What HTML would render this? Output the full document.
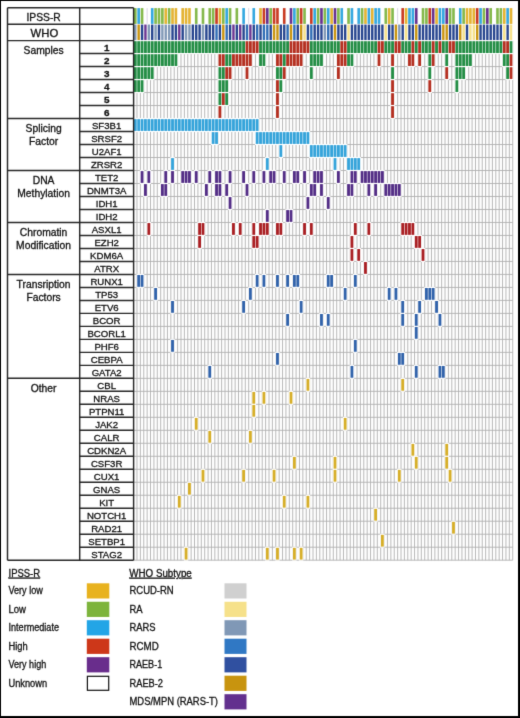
<!DOCTYPE html>
<html><head><meta charset="utf-8"><title>Mutation landscape</title>
<style>
html,body{margin:0;padding:0;background:#fff;}
body{width:520px;height:718px;overflow:hidden;position:relative;font-family:"Liberation Sans",sans-serif;}
#wrap{position:absolute;left:0;top:0;width:520px;height:718px;filter:url(#soft);}
#frame{position:absolute;left:0;top:0;width:520px;height:718px;box-sizing:border-box;border-style:solid;border-color:#000;border-width:1px 2px 2px 1.3px;}
</style></head><body>
<svg width="0" height="0" style="position:absolute"><defs><filter id="soft" x="0" y="0" width="100%" height="100%" color-interpolation-filters="sRGB"><feConvolveMatrix order="3" kernelMatrix="0.0113 0.0836 0.0113 0.0836 0.6204 0.0836 0.0113 0.0836 0.0113" edgeMode="duplicate"/></filter></defs></svg>
<div id="wrap"><div id="frame"></div>
<svg width="520" height="718" viewBox="0 0 520 718" style="position:absolute;left:0;top:0"><g fill="none" stroke="#B0B0B0" stroke-width="0.9"><line x1="133.6" y1="40.6" x2="133.6" y2="560.2"/><line x1="136.98" y1="40.6" x2="136.98" y2="560.2"/><line x1="140.37" y1="40.6" x2="140.37" y2="560.2"/><line x1="143.75" y1="40.6" x2="143.75" y2="560.2"/><line x1="147.14" y1="40.6" x2="147.14" y2="560.2"/><line x1="150.52" y1="40.6" x2="150.52" y2="560.2"/><line x1="153.91" y1="40.6" x2="153.91" y2="560.2"/><line x1="157.29" y1="40.6" x2="157.29" y2="560.2"/><line x1="160.68" y1="40.6" x2="160.68" y2="560.2"/><line x1="164.06" y1="40.6" x2="164.06" y2="560.2"/><line x1="167.45" y1="40.6" x2="167.45" y2="560.2"/><line x1="170.83" y1="40.6" x2="170.83" y2="560.2"/><line x1="174.22" y1="40.6" x2="174.22" y2="560.2"/><line x1="177.6" y1="40.6" x2="177.6" y2="560.2"/><line x1="180.99" y1="40.6" x2="180.99" y2="560.2"/><line x1="184.38" y1="40.6" x2="184.38" y2="560.2"/><line x1="187.76" y1="40.6" x2="187.76" y2="560.2"/><line x1="191.14" y1="40.6" x2="191.14" y2="560.2"/><line x1="194.53" y1="40.6" x2="194.53" y2="560.2"/><line x1="197.91" y1="40.6" x2="197.91" y2="560.2"/><line x1="201.3" y1="40.6" x2="201.3" y2="560.2"/><line x1="204.69" y1="40.6" x2="204.69" y2="560.2"/><line x1="208.07" y1="40.6" x2="208.07" y2="560.2"/><line x1="211.45" y1="40.6" x2="211.45" y2="560.2"/><line x1="214.84" y1="40.6" x2="214.84" y2="560.2"/><line x1="218.22" y1="40.6" x2="218.22" y2="560.2"/><line x1="221.61" y1="40.6" x2="221.61" y2="560.2"/><line x1="225" y1="40.6" x2="225" y2="560.2"/><line x1="228.38" y1="40.6" x2="228.38" y2="560.2"/><line x1="231.76" y1="40.6" x2="231.76" y2="560.2"/><line x1="235.15" y1="40.6" x2="235.15" y2="560.2"/><line x1="238.53" y1="40.6" x2="238.53" y2="560.2"/><line x1="241.92" y1="40.6" x2="241.92" y2="560.2"/><line x1="245.31" y1="40.6" x2="245.31" y2="560.2"/><line x1="248.69" y1="40.6" x2="248.69" y2="560.2"/><line x1="252.07" y1="40.6" x2="252.07" y2="560.2"/><line x1="255.46" y1="40.6" x2="255.46" y2="560.2"/><line x1="258.84" y1="40.6" x2="258.84" y2="560.2"/><line x1="262.23" y1="40.6" x2="262.23" y2="560.2"/><line x1="265.62" y1="40.6" x2="265.62" y2="560.2"/><line x1="269" y1="40.6" x2="269" y2="560.2"/><line x1="272.38" y1="40.6" x2="272.38" y2="560.2"/><line x1="275.77" y1="40.6" x2="275.77" y2="560.2"/><line x1="279.15" y1="40.6" x2="279.15" y2="560.2"/><line x1="282.54" y1="40.6" x2="282.54" y2="560.2"/><line x1="285.92" y1="40.6" x2="285.92" y2="560.2"/><line x1="289.31" y1="40.6" x2="289.31" y2="560.2"/><line x1="292.69" y1="40.6" x2="292.69" y2="560.2"/><line x1="296.08" y1="40.6" x2="296.08" y2="560.2"/><line x1="299.46" y1="40.6" x2="299.46" y2="560.2"/><line x1="302.85" y1="40.6" x2="302.85" y2="560.2"/><line x1="306.24" y1="40.6" x2="306.24" y2="560.2"/><line x1="309.62" y1="40.6" x2="309.62" y2="560.2"/><line x1="313" y1="40.6" x2="313" y2="560.2"/><line x1="316.39" y1="40.6" x2="316.39" y2="560.2"/><line x1="319.77" y1="40.6" x2="319.77" y2="560.2"/><line x1="323.16" y1="40.6" x2="323.16" y2="560.2"/><line x1="326.54" y1="40.6" x2="326.54" y2="560.2"/><line x1="329.93" y1="40.6" x2="329.93" y2="560.2"/><line x1="333.31" y1="40.6" x2="333.31" y2="560.2"/><line x1="336.7" y1="40.6" x2="336.7" y2="560.2"/><line x1="340.08" y1="40.6" x2="340.08" y2="560.2"/><line x1="343.47" y1="40.6" x2="343.47" y2="560.2"/><line x1="346.86" y1="40.6" x2="346.86" y2="560.2"/><line x1="350.24" y1="40.6" x2="350.24" y2="560.2"/><line x1="353.62" y1="40.6" x2="353.62" y2="560.2"/><line x1="357.01" y1="40.6" x2="357.01" y2="560.2"/><line x1="360.39" y1="40.6" x2="360.39" y2="560.2"/><line x1="363.78" y1="40.6" x2="363.78" y2="560.2"/><line x1="367.16" y1="40.6" x2="367.16" y2="560.2"/><line x1="370.55" y1="40.6" x2="370.55" y2="560.2"/><line x1="373.93" y1="40.6" x2="373.93" y2="560.2"/><line x1="377.32" y1="40.6" x2="377.32" y2="560.2"/><line x1="380.7" y1="40.6" x2="380.7" y2="560.2"/><line x1="384.09" y1="40.6" x2="384.09" y2="560.2"/><line x1="387.47" y1="40.6" x2="387.47" y2="560.2"/><line x1="390.86" y1="40.6" x2="390.86" y2="560.2"/><line x1="394.25" y1="40.6" x2="394.25" y2="560.2"/><line x1="397.63" y1="40.6" x2="397.63" y2="560.2"/><line x1="401.01" y1="40.6" x2="401.01" y2="560.2"/><line x1="404.4" y1="40.6" x2="404.4" y2="560.2"/><line x1="407.78" y1="40.6" x2="407.78" y2="560.2"/><line x1="411.17" y1="40.6" x2="411.17" y2="560.2"/><line x1="414.55" y1="40.6" x2="414.55" y2="560.2"/><line x1="417.94" y1="40.6" x2="417.94" y2="560.2"/><line x1="421.32" y1="40.6" x2="421.32" y2="560.2"/><line x1="424.71" y1="40.6" x2="424.71" y2="560.2"/><line x1="428.1" y1="40.6" x2="428.1" y2="560.2"/><line x1="431.48" y1="40.6" x2="431.48" y2="560.2"/><line x1="434.87" y1="40.6" x2="434.87" y2="560.2"/><line x1="438.25" y1="40.6" x2="438.25" y2="560.2"/><line x1="441.63" y1="40.6" x2="441.63" y2="560.2"/><line x1="445.02" y1="40.6" x2="445.02" y2="560.2"/><line x1="448.4" y1="40.6" x2="448.4" y2="560.2"/><line x1="451.79" y1="40.6" x2="451.79" y2="560.2"/><line x1="455.17" y1="40.6" x2="455.17" y2="560.2"/><line x1="458.56" y1="40.6" x2="458.56" y2="560.2"/><line x1="461.94" y1="40.6" x2="461.94" y2="560.2"/><line x1="465.33" y1="40.6" x2="465.33" y2="560.2"/><line x1="468.71" y1="40.6" x2="468.71" y2="560.2"/><line x1="472.1" y1="40.6" x2="472.1" y2="560.2"/><line x1="475.49" y1="40.6" x2="475.49" y2="560.2"/><line x1="478.87" y1="40.6" x2="478.87" y2="560.2"/><line x1="482.25" y1="40.6" x2="482.25" y2="560.2"/><line x1="485.64" y1="40.6" x2="485.64" y2="560.2"/><line x1="489.02" y1="40.6" x2="489.02" y2="560.2"/><line x1="492.41" y1="40.6" x2="492.41" y2="560.2"/><line x1="495.79" y1="40.6" x2="495.79" y2="560.2"/><line x1="499.18" y1="40.6" x2="499.18" y2="560.2"/><line x1="502.56" y1="40.6" x2="502.56" y2="560.2"/><line x1="505.95" y1="40.6" x2="505.95" y2="560.2"/><line x1="509.33" y1="40.6" x2="509.33" y2="560.2"/><line x1="512.72" y1="40.6" x2="512.72" y2="560.2"/><line x1="133.6" y1="40.6" x2="512.72" y2="40.6"/><line x1="133.6" y1="53.59" x2="512.72" y2="53.59"/><line x1="133.6" y1="66.58" x2="512.72" y2="66.58"/><line x1="133.6" y1="79.57" x2="512.72" y2="79.57"/><line x1="133.6" y1="92.56" x2="512.72" y2="92.56"/><line x1="133.6" y1="105.55" x2="512.72" y2="105.55"/><line x1="133.6" y1="118.54" x2="512.72" y2="118.54"/><line x1="133.6" y1="131.53" x2="512.72" y2="131.53"/><line x1="133.6" y1="144.52" x2="512.72" y2="144.52"/><line x1="133.6" y1="157.51" x2="512.72" y2="157.51"/><line x1="133.6" y1="170.5" x2="512.72" y2="170.5"/><line x1="133.6" y1="183.49" x2="512.72" y2="183.49"/><line x1="133.6" y1="196.48" x2="512.72" y2="196.48"/><line x1="133.6" y1="209.47" x2="512.72" y2="209.47"/><line x1="133.6" y1="222.46" x2="512.72" y2="222.46"/><line x1="133.6" y1="235.45" x2="512.72" y2="235.45"/><line x1="133.6" y1="248.44" x2="512.72" y2="248.44"/><line x1="133.6" y1="261.43" x2="512.72" y2="261.43"/><line x1="133.6" y1="274.42" x2="512.72" y2="274.42"/><line x1="133.6" y1="287.41" x2="512.72" y2="287.41"/><line x1="133.6" y1="300.4" x2="512.72" y2="300.4"/><line x1="133.6" y1="313.39" x2="512.72" y2="313.39"/><line x1="133.6" y1="326.38" x2="512.72" y2="326.38"/><line x1="133.6" y1="339.37" x2="512.72" y2="339.37"/><line x1="133.6" y1="352.36" x2="512.72" y2="352.36"/><line x1="133.6" y1="365.35" x2="512.72" y2="365.35"/><line x1="133.6" y1="378.34" x2="512.72" y2="378.34"/><line x1="133.6" y1="391.33" x2="512.72" y2="391.33"/><line x1="133.6" y1="404.32" x2="512.72" y2="404.32"/><line x1="133.6" y1="417.31" x2="512.72" y2="417.31"/><line x1="133.6" y1="430.3" x2="512.72" y2="430.3"/><line x1="133.6" y1="443.29" x2="512.72" y2="443.29"/><line x1="133.6" y1="456.28" x2="512.72" y2="456.28"/><line x1="133.6" y1="469.27" x2="512.72" y2="469.27"/><line x1="133.6" y1="482.26" x2="512.72" y2="482.26"/><line x1="133.6" y1="495.25" x2="512.72" y2="495.25"/><line x1="133.6" y1="508.24" x2="512.72" y2="508.24"/><line x1="133.6" y1="521.23" x2="512.72" y2="521.23"/><line x1="133.6" y1="534.22" x2="512.72" y2="534.22"/><line x1="133.6" y1="547.21" x2="512.72" y2="547.21"/><line x1="133.6" y1="560.2" x2="512.72" y2="560.2"/></g><g stroke="#CFC8DA" stroke-width="0.8"><line x1="147.14" y1="8.1" x2="147.14" y2="23.9"/><line x1="248.69" y1="8.1" x2="248.69" y2="23.9"/><line x1="397.63" y1="8.1" x2="397.63" y2="23.9"/></g><g><rect x="133.98" y="8.1" width="2.62" height="15.8" fill="#84B84A"/><rect x="134.1" y="24.55" width="2.38" height="15.7" fill="#8098B6"/><rect x="137.36" y="8.1" width="2.62" height="15.8" fill="#34A8E0"/><rect x="137.48" y="24.55" width="2.38" height="15.7" fill="#C8940F"/><rect x="140.75" y="8.1" width="2.62" height="15.8" fill="#84B84A"/><rect x="140.87" y="24.55" width="2.38" height="15.7" fill="#26448E"/><rect x="144.25" y="24.55" width="2.38" height="15.7" fill="#6A3490"/><rect x="147.64" y="24.55" width="2.38" height="15.7" fill="#8098B6"/><rect x="150.9" y="8.1" width="2.62" height="15.8" fill="#34A8E0"/><rect x="151.02" y="24.55" width="2.38" height="15.7" fill="#26448E"/><rect x="154.29" y="8.1" width="2.62" height="15.8" fill="#84B84A"/><rect x="154.41" y="24.55" width="2.38" height="15.7" fill="#8098B6"/><rect x="157.67" y="8.1" width="2.62" height="15.8" fill="#84B84A"/><rect x="157.79" y="24.55" width="2.38" height="15.7" fill="#26448E"/><rect x="161.06" y="8.1" width="2.62" height="15.8" fill="#84B84A"/><rect x="161.18" y="24.55" width="2.38" height="15.7" fill="#8098B6"/><rect x="164.44" y="8.1" width="2.62" height="15.8" fill="#E4B332"/><rect x="164.56" y="24.55" width="2.38" height="15.7" fill="#8098B6"/><rect x="167.83" y="8.1" width="2.62" height="15.8" fill="#84B84A"/><rect x="167.95" y="24.55" width="2.38" height="15.7" fill="#8098B6"/><rect x="171.21" y="8.1" width="2.62" height="15.8" fill="#E4B332"/><rect x="171.33" y="24.55" width="2.38" height="15.7" fill="#26448E"/><rect x="174.6" y="8.1" width="2.62" height="15.8" fill="#E4B332"/><rect x="174.72" y="24.55" width="2.38" height="15.7" fill="#26448E"/><rect x="178.1" y="24.55" width="2.38" height="15.7" fill="#6A3490"/><rect x="181.37" y="8.1" width="2.62" height="15.8" fill="#E4B332"/><rect x="181.49" y="24.55" width="2.38" height="15.7" fill="#26448E"/><rect x="184.75" y="8.1" width="2.62" height="15.8" fill="#E4B332"/><rect x="184.88" y="24.55" width="2.38" height="15.7" fill="#8098B6"/><rect x="188.14" y="8.1" width="2.62" height="15.8" fill="#E4B332"/><rect x="188.26" y="24.55" width="2.38" height="15.7" fill="#8098B6"/><rect x="191.64" y="24.55" width="2.38" height="15.7" fill="#26448E"/><rect x="194.91" y="8.1" width="2.62" height="15.8" fill="#84B84A"/><rect x="195.03" y="24.55" width="2.38" height="15.7" fill="#26448E"/><rect x="198.41" y="24.55" width="2.38" height="15.7" fill="#26448E"/><rect x="201.68" y="8.1" width="2.62" height="15.8" fill="#84B84A"/><rect x="201.8" y="24.55" width="2.38" height="15.7" fill="#8098B6"/><rect x="205.19" y="24.55" width="2.38" height="15.7" fill="#26448E"/><rect x="208.45" y="8.1" width="2.62" height="15.8" fill="#84B84A"/><rect x="208.57" y="24.55" width="2.38" height="15.7" fill="#26448E"/><rect x="211.83" y="8.1" width="2.62" height="15.8" fill="#84B84A"/><rect x="211.95" y="24.55" width="2.38" height="15.7" fill="#26448E"/><rect x="215.22" y="8.1" width="2.62" height="15.8" fill="#C93A22"/><rect x="215.34" y="24.55" width="2.38" height="15.7" fill="#2F6CB5"/><rect x="218.6" y="8.1" width="2.62" height="15.8" fill="#E4B332"/><rect x="218.72" y="24.55" width="2.38" height="15.7" fill="#26448E"/><rect x="221.99" y="8.1" width="2.62" height="15.8" fill="#84B84A"/><rect x="222.11" y="24.55" width="2.38" height="15.7" fill="#C8940F"/><rect x="225.38" y="8.1" width="2.62" height="15.8" fill="#34A8E0"/><rect x="225.5" y="24.55" width="2.38" height="15.7" fill="#2F6CB5"/><rect x="228.76" y="8.1" width="2.62" height="15.8" fill="#84B84A"/><rect x="228.88" y="24.55" width="2.38" height="15.7" fill="#26448E"/><rect x="232.26" y="24.55" width="2.38" height="15.7" fill="#6A3490"/><rect x="235.53" y="8.1" width="2.62" height="15.8" fill="#84B84A"/><rect x="235.65" y="24.55" width="2.38" height="15.7" fill="#26448E"/><rect x="239.03" y="24.55" width="2.38" height="15.7" fill="#6A3490"/><rect x="242.3" y="8.1" width="2.62" height="15.8" fill="#34A8E0"/><rect x="242.42" y="24.55" width="2.38" height="15.7" fill="#26448E"/><rect x="245.81" y="24.55" width="2.38" height="15.7" fill="#2F6CB5"/><rect x="249.19" y="24.55" width="2.38" height="15.7" fill="#6A3490"/><rect x="252.45" y="8.1" width="2.62" height="15.8" fill="#34A8E0"/><rect x="252.57" y="24.55" width="2.38" height="15.7" fill="#26448E"/><rect x="255.96" y="24.55" width="2.38" height="15.7" fill="#2F6CB5"/><rect x="259.22" y="8.1" width="2.62" height="15.8" fill="#E4B332"/><rect x="259.34" y="24.55" width="2.38" height="15.7" fill="#26448E"/><rect x="262.61" y="8.1" width="2.62" height="15.8" fill="#C93A22"/><rect x="262.73" y="24.55" width="2.38" height="15.7" fill="#2F6CB5"/><rect x="266" y="8.1" width="2.62" height="15.8" fill="#66308E"/><rect x="266.12" y="24.55" width="2.38" height="15.7" fill="#2F6CB5"/><rect x="269.38" y="8.1" width="2.62" height="15.8" fill="#84B84A"/><rect x="269.5" y="24.55" width="2.38" height="15.7" fill="#26448E"/><rect x="272.76" y="8.1" width="2.62" height="15.8" fill="#C93A22"/><rect x="272.88" y="24.55" width="2.38" height="15.7" fill="#C8940F"/><rect x="276.15" y="8.1" width="2.62" height="15.8" fill="#C93A22"/><rect x="276.27" y="24.55" width="2.38" height="15.7" fill="#C8940F"/><rect x="279.65" y="24.55" width="2.38" height="15.7" fill="#26448E"/><rect x="282.92" y="8.1" width="2.62" height="15.8" fill="#C93A22"/><rect x="283.04" y="24.55" width="2.38" height="15.7" fill="#26448E"/><rect x="286.42" y="24.55" width="2.38" height="15.7" fill="#2F6CB5"/><rect x="289.69" y="8.1" width="2.62" height="15.8" fill="#66308E"/><rect x="289.81" y="24.55" width="2.38" height="15.7" fill="#C8940F"/><rect x="293.07" y="8.1" width="2.62" height="15.8" fill="#34A8E0"/><rect x="293.19" y="24.55" width="2.38" height="15.7" fill="#2F6CB5"/><rect x="296.46" y="8.1" width="2.62" height="15.8" fill="#84B84A"/><rect x="296.58" y="24.55" width="2.38" height="15.7" fill="#26448E"/><rect x="299.84" y="8.1" width="2.62" height="15.8" fill="#C93A22"/><rect x="299.96" y="24.55" width="2.38" height="15.7" fill="#C8940F"/><rect x="303.23" y="8.1" width="2.62" height="15.8" fill="#84B84A"/><rect x="303.35" y="24.55" width="2.38" height="15.7" fill="#F6E18A"/><rect x="306.74" y="24.55" width="2.38" height="15.7" fill="#26448E"/><rect x="310" y="8.1" width="2.62" height="15.8" fill="#C93A22"/><rect x="310.12" y="24.55" width="2.38" height="15.7" fill="#2F6CB5"/><rect x="313.38" y="8.1" width="2.62" height="15.8" fill="#34A8E0"/><rect x="313.5" y="24.55" width="2.38" height="15.7" fill="#26448E"/><rect x="316.77" y="8.1" width="2.62" height="15.8" fill="#84B84A"/><rect x="316.89" y="24.55" width="2.38" height="15.7" fill="#26448E"/><rect x="320.15" y="8.1" width="2.62" height="15.8" fill="#66308E"/><rect x="320.27" y="24.55" width="2.38" height="15.7" fill="#26448E"/><rect x="323.54" y="8.1" width="2.62" height="15.8" fill="#84B84A"/><rect x="323.66" y="24.55" width="2.38" height="15.7" fill="#8098B6"/><rect x="326.92" y="8.1" width="2.62" height="15.8" fill="#34A8E0"/><rect x="327.04" y="24.55" width="2.38" height="15.7" fill="#2F6CB5"/><rect x="330.31" y="8.1" width="2.62" height="15.8" fill="#E4B332"/><rect x="330.43" y="24.55" width="2.38" height="15.7" fill="#26448E"/><rect x="333.69" y="8.1" width="2.62" height="15.8" fill="#66308E"/><rect x="333.81" y="24.55" width="2.38" height="15.7" fill="#C8940F"/><rect x="337.08" y="8.1" width="2.62" height="15.8" fill="#84B84A"/><rect x="337.2" y="24.55" width="2.38" height="15.7" fill="#26448E"/><rect x="340.46" y="8.1" width="2.62" height="15.8" fill="#34A8E0"/><rect x="340.58" y="24.55" width="2.38" height="15.7" fill="#26448E"/><rect x="343.97" y="24.55" width="2.38" height="15.7" fill="#26448E"/><rect x="347.24" y="8.1" width="2.62" height="15.8" fill="#84B84A"/><rect x="347.36" y="24.55" width="2.38" height="15.7" fill="#F6E18A"/><rect x="350.62" y="8.1" width="2.62" height="15.8" fill="#34A8E0"/><rect x="350.74" y="24.55" width="2.38" height="15.7" fill="#26448E"/><rect x="354.12" y="24.55" width="2.38" height="15.7" fill="#26448E"/><rect x="357.39" y="8.1" width="2.62" height="15.8" fill="#34A8E0"/><rect x="357.51" y="24.55" width="2.38" height="15.7" fill="#26448E"/><rect x="360.77" y="8.1" width="2.62" height="15.8" fill="#84B84A"/><rect x="360.89" y="24.55" width="2.38" height="15.7" fill="#26448E"/><rect x="364.16" y="8.1" width="2.62" height="15.8" fill="#E4B332"/><rect x="364.28" y="24.55" width="2.38" height="15.7" fill="#26448E"/><rect x="367.54" y="8.1" width="2.62" height="15.8" fill="#34A8E0"/><rect x="367.66" y="24.55" width="2.38" height="15.7" fill="#26448E"/><rect x="370.93" y="8.1" width="2.62" height="15.8" fill="#E4B332"/><rect x="371.05" y="24.55" width="2.38" height="15.7" fill="#26448E"/><rect x="374.31" y="8.1" width="2.62" height="15.8" fill="#34A8E0"/><rect x="374.43" y="24.55" width="2.38" height="15.7" fill="#26448E"/><rect x="377.7" y="8.1" width="2.62" height="15.8" fill="#34A8E0"/><rect x="377.82" y="24.55" width="2.38" height="15.7" fill="#26448E"/><rect x="381.2" y="24.55" width="2.38" height="15.7" fill="#26448E"/><rect x="384.47" y="8.1" width="2.62" height="15.8" fill="#84B84A"/><rect x="384.59" y="24.55" width="2.38" height="15.7" fill="#F6E18A"/><rect x="387.85" y="8.1" width="2.62" height="15.8" fill="#E4B332"/><rect x="387.97" y="24.55" width="2.38" height="15.7" fill="#26448E"/><rect x="391.24" y="8.1" width="2.62" height="15.8" fill="#84B84A"/><rect x="391.36" y="24.55" width="2.38" height="15.7" fill="#26448E"/><rect x="394.75" y="24.55" width="2.38" height="15.7" fill="#C8940F"/><rect x="398.13" y="24.55" width="2.38" height="15.7" fill="#8098B6"/><rect x="401.39" y="8.1" width="2.62" height="15.8" fill="#C93A22"/><rect x="401.51" y="24.55" width="2.38" height="15.7" fill="#26448E"/><rect x="404.78" y="8.1" width="2.62" height="15.8" fill="#E4B332"/><rect x="404.9" y="24.55" width="2.38" height="15.7" fill="#F6E18A"/><rect x="408.16" y="8.1" width="2.62" height="15.8" fill="#34A8E0"/><rect x="408.28" y="24.55" width="2.38" height="15.7" fill="#26448E"/><rect x="411.55" y="8.1" width="2.62" height="15.8" fill="#34A8E0"/><rect x="411.67" y="24.55" width="2.38" height="15.7" fill="#26448E"/><rect x="414.93" y="8.1" width="2.62" height="15.8" fill="#66308E"/><rect x="415.05" y="24.55" width="2.38" height="15.7" fill="#C8940F"/><rect x="418.44" y="24.55" width="2.38" height="15.7" fill="#26448E"/><rect x="421.7" y="8.1" width="2.62" height="15.8" fill="#84B84A"/><rect x="421.82" y="24.55" width="2.38" height="15.7" fill="#26448E"/><rect x="425.09" y="8.1" width="2.62" height="15.8" fill="#84B84A"/><rect x="425.21" y="24.55" width="2.38" height="15.7" fill="#26448E"/><rect x="428.48" y="8.1" width="2.62" height="15.8" fill="#C93A22"/><rect x="428.6" y="24.55" width="2.38" height="15.7" fill="#26448E"/><rect x="431.86" y="8.1" width="2.62" height="15.8" fill="#66308E"/><rect x="431.98" y="24.55" width="2.38" height="15.7" fill="#26448E"/><rect x="435.25" y="8.1" width="2.62" height="15.8" fill="#E4B332"/><rect x="435.37" y="24.55" width="2.38" height="15.7" fill="#26448E"/><rect x="438.63" y="8.1" width="2.62" height="15.8" fill="#34A8E0"/><rect x="438.75" y="24.55" width="2.38" height="15.7" fill="#26448E"/><rect x="442.01" y="8.1" width="2.62" height="15.8" fill="#34A8E0"/><rect x="442.13" y="24.55" width="2.38" height="15.7" fill="#C8940F"/><rect x="445.4" y="8.1" width="2.62" height="15.8" fill="#66308E"/><rect x="445.52" y="24.55" width="2.38" height="15.7" fill="#C8940F"/><rect x="448.78" y="8.1" width="2.62" height="15.8" fill="#84B84A"/><rect x="448.9" y="24.55" width="2.38" height="15.7" fill="#26448E"/><rect x="452.17" y="8.1" width="2.62" height="15.8" fill="#84B84A"/><rect x="452.29" y="24.55" width="2.38" height="15.7" fill="#26448E"/><rect x="455.67" y="24.55" width="2.38" height="15.7" fill="#26448E"/><rect x="458.94" y="8.1" width="2.62" height="15.8" fill="#34A8E0"/><rect x="459.06" y="24.55" width="2.38" height="15.7" fill="#C8940F"/><rect x="462.32" y="8.1" width="2.62" height="15.8" fill="#84B84A"/><rect x="462.44" y="24.55" width="2.38" height="15.7" fill="#F6E18A"/><rect x="465.71" y="8.1" width="2.62" height="15.8" fill="#E4B332"/><rect x="465.83" y="24.55" width="2.38" height="15.7" fill="#26448E"/><rect x="469.09" y="8.1" width="2.62" height="15.8" fill="#E4B332"/><rect x="469.21" y="24.55" width="2.38" height="15.7" fill="#F6E18A"/><rect x="472.48" y="8.1" width="2.62" height="15.8" fill="#E4B332"/><rect x="472.6" y="24.55" width="2.38" height="15.7" fill="#F6E18A"/><rect x="475.87" y="8.1" width="2.62" height="15.8" fill="#C93A22"/><rect x="475.99" y="24.55" width="2.38" height="15.7" fill="#C8940F"/><rect x="479.25" y="8.1" width="2.62" height="15.8" fill="#34A8E0"/><rect x="479.37" y="24.55" width="2.38" height="15.7" fill="#26448E"/><rect x="482.63" y="8.1" width="2.62" height="15.8" fill="#84B84A"/><rect x="482.75" y="24.55" width="2.38" height="15.7" fill="#26448E"/><rect x="486.02" y="8.1" width="2.62" height="15.8" fill="#66308E"/><rect x="486.14" y="24.55" width="2.38" height="15.7" fill="#26448E"/><rect x="489.4" y="8.1" width="2.62" height="15.8" fill="#84B84A"/><rect x="489.52" y="24.55" width="2.38" height="15.7" fill="#26448E"/><rect x="492.91" y="24.55" width="2.38" height="15.7" fill="#26448E"/><rect x="496.17" y="8.1" width="2.62" height="15.8" fill="#84B84A"/><rect x="496.29" y="24.55" width="2.38" height="15.7" fill="#26448E"/><rect x="499.56" y="8.1" width="2.62" height="15.8" fill="#84B84A"/><rect x="499.68" y="24.55" width="2.38" height="15.7" fill="#26448E"/><rect x="502.94" y="8.1" width="2.62" height="15.8" fill="#E4B332"/><rect x="503.06" y="24.55" width="2.38" height="15.7" fill="#F6E18A"/><rect x="506.33" y="8.1" width="2.62" height="15.8" fill="#34A8E0"/><rect x="506.45" y="24.55" width="2.38" height="15.7" fill="#26448E"/><rect x="509.71" y="8.1" width="2.62" height="15.8" fill="#E4B332"/><rect x="509.83" y="24.55" width="2.38" height="15.7" fill="#F6E18A"/></g><g fill="#fff"><rect x="133.1" y="40.1" width="4.38" height="13.99"/><rect x="136.48" y="40.1" width="4.38" height="13.99"/><rect x="139.87" y="40.1" width="4.38" height="13.99"/><rect x="143.25" y="40.1" width="4.38" height="13.99"/><rect x="146.64" y="40.1" width="4.38" height="13.99"/><rect x="150.02" y="40.1" width="4.38" height="13.99"/><rect x="153.41" y="40.1" width="4.38" height="13.99"/><rect x="156.79" y="40.1" width="4.38" height="13.99"/><rect x="160.18" y="40.1" width="4.38" height="13.99"/><rect x="163.56" y="40.1" width="4.38" height="13.99"/><rect x="166.95" y="40.1" width="4.38" height="13.99"/><rect x="170.33" y="40.1" width="4.38" height="13.99"/><rect x="173.72" y="40.1" width="4.38" height="13.99"/><rect x="177.1" y="40.1" width="4.38" height="13.99"/><rect x="180.49" y="40.1" width="4.38" height="13.99"/><rect x="183.88" y="40.1" width="4.38" height="13.99"/><rect x="187.26" y="40.1" width="4.38" height="13.99"/><rect x="190.64" y="40.1" width="4.38" height="13.99"/><rect x="194.03" y="40.1" width="4.38" height="13.99"/><rect x="197.41" y="40.1" width="4.38" height="13.99"/><rect x="200.8" y="40.1" width="4.38" height="13.99"/><rect x="204.19" y="40.1" width="4.38" height="13.99"/><rect x="207.57" y="40.1" width="4.38" height="13.99"/><rect x="210.95" y="40.1" width="4.38" height="13.99"/><rect x="214.34" y="40.1" width="4.38" height="13.99"/><rect x="217.72" y="40.1" width="4.38" height="13.99"/><rect x="221.11" y="40.1" width="4.38" height="13.99"/><rect x="224.5" y="40.1" width="4.38" height="13.99"/><rect x="227.88" y="40.1" width="4.38" height="13.99"/><rect x="231.26" y="40.1" width="4.38" height="13.99"/><rect x="234.65" y="40.1" width="4.38" height="13.99"/><rect x="238.03" y="40.1" width="4.38" height="13.99"/><rect x="241.42" y="40.1" width="4.38" height="13.99"/><rect x="244.81" y="40.1" width="4.38" height="13.99"/><rect x="248.19" y="40.1" width="4.38" height="13.99"/><rect x="251.57" y="40.1" width="4.38" height="13.99"/><rect x="254.96" y="40.1" width="4.38" height="13.99"/><rect x="258.34" y="40.1" width="4.38" height="13.99"/><rect x="261.73" y="40.1" width="4.38" height="13.99"/><rect x="265.12" y="40.1" width="4.38" height="13.99"/><rect x="268.5" y="40.1" width="4.38" height="13.99"/><rect x="271.88" y="40.1" width="4.38" height="13.99"/><rect x="275.27" y="40.1" width="4.38" height="13.99"/><rect x="278.65" y="40.1" width="4.38" height="13.99"/><rect x="282.04" y="40.1" width="4.38" height="13.99"/><rect x="285.42" y="40.1" width="4.38" height="13.99"/><rect x="288.81" y="40.1" width="4.38" height="13.99"/><rect x="292.19" y="40.1" width="4.38" height="13.99"/><rect x="295.58" y="40.1" width="4.38" height="13.99"/><rect x="298.96" y="40.1" width="4.38" height="13.99"/><rect x="302.35" y="40.1" width="4.38" height="13.99"/><rect x="305.74" y="40.1" width="4.38" height="13.99"/><rect x="309.12" y="40.1" width="4.38" height="13.99"/><rect x="312.5" y="40.1" width="4.38" height="13.99"/><rect x="315.89" y="40.1" width="4.38" height="13.99"/><rect x="319.27" y="40.1" width="4.38" height="13.99"/><rect x="322.66" y="40.1" width="4.38" height="13.99"/><rect x="326.04" y="40.1" width="4.38" height="13.99"/><rect x="329.43" y="40.1" width="4.38" height="13.99"/><rect x="332.81" y="40.1" width="4.38" height="13.99"/><rect x="336.2" y="40.1" width="4.38" height="13.99"/><rect x="339.58" y="40.1" width="4.38" height="13.99"/><rect x="342.97" y="40.1" width="4.38" height="13.99"/><rect x="346.36" y="40.1" width="4.38" height="13.99"/><rect x="349.74" y="40.1" width="4.38" height="13.99"/><rect x="353.12" y="40.1" width="4.38" height="13.99"/><rect x="356.51" y="40.1" width="4.38" height="13.99"/><rect x="359.89" y="40.1" width="4.38" height="13.99"/><rect x="363.28" y="40.1" width="4.38" height="13.99"/><rect x="366.66" y="40.1" width="4.38" height="13.99"/><rect x="370.05" y="40.1" width="4.38" height="13.99"/><rect x="373.43" y="40.1" width="4.38" height="13.99"/><rect x="376.82" y="40.1" width="4.38" height="13.99"/><rect x="380.2" y="40.1" width="4.38" height="13.99"/><rect x="383.59" y="40.1" width="4.38" height="13.99"/><rect x="386.97" y="40.1" width="4.38" height="13.99"/><rect x="390.36" y="40.1" width="4.38" height="13.99"/><rect x="393.75" y="40.1" width="4.38" height="13.99"/><rect x="397.13" y="40.1" width="4.38" height="13.99"/><rect x="400.51" y="40.1" width="4.38" height="13.99"/><rect x="403.9" y="40.1" width="4.38" height="13.99"/><rect x="407.28" y="40.1" width="4.38" height="13.99"/><rect x="410.67" y="40.1" width="4.38" height="13.99"/><rect x="414.05" y="40.1" width="4.38" height="13.99"/><rect x="417.44" y="40.1" width="4.38" height="13.99"/><rect x="420.82" y="40.1" width="4.38" height="13.99"/><rect x="424.21" y="40.1" width="4.38" height="13.99"/><rect x="427.6" y="40.1" width="4.38" height="13.99"/><rect x="430.98" y="40.1" width="4.38" height="13.99"/><rect x="434.37" y="40.1" width="4.38" height="13.99"/><rect x="437.75" y="40.1" width="4.38" height="13.99"/><rect x="441.13" y="40.1" width="4.38" height="13.99"/><rect x="444.52" y="40.1" width="4.38" height="13.99"/><rect x="447.9" y="40.1" width="4.38" height="13.99"/><rect x="451.29" y="40.1" width="4.38" height="13.99"/><rect x="454.67" y="40.1" width="4.38" height="13.99"/><rect x="458.06" y="40.1" width="4.38" height="13.99"/><rect x="461.44" y="40.1" width="4.38" height="13.99"/><rect x="464.83" y="40.1" width="4.38" height="13.99"/><rect x="468.21" y="40.1" width="4.38" height="13.99"/><rect x="471.6" y="40.1" width="4.38" height="13.99"/><rect x="474.99" y="40.1" width="4.38" height="13.99"/><rect x="478.37" y="40.1" width="4.38" height="13.99"/><rect x="481.75" y="40.1" width="4.38" height="13.99"/><rect x="485.14" y="40.1" width="4.38" height="13.99"/><rect x="488.52" y="40.1" width="4.38" height="13.99"/><rect x="491.91" y="40.1" width="4.38" height="13.99"/><rect x="495.29" y="40.1" width="4.38" height="13.99"/><rect x="498.68" y="40.1" width="4.38" height="13.99"/><rect x="502.06" y="40.1" width="4.38" height="13.99"/><rect x="505.45" y="40.1" width="4.38" height="13.99"/><rect x="508.83" y="40.1" width="4.38" height="13.99"/><rect x="133.1" y="53.09" width="4.38" height="13.99"/><rect x="136.48" y="53.09" width="4.38" height="13.99"/><rect x="139.87" y="53.09" width="4.38" height="13.99"/><rect x="143.25" y="53.09" width="4.38" height="13.99"/><rect x="146.64" y="53.09" width="4.38" height="13.99"/><rect x="150.02" y="53.09" width="4.38" height="13.99"/><rect x="153.41" y="53.09" width="4.38" height="13.99"/><rect x="156.79" y="53.09" width="4.38" height="13.99"/><rect x="160.18" y="53.09" width="4.38" height="13.99"/><rect x="163.56" y="53.09" width="4.38" height="13.99"/><rect x="166.95" y="53.09" width="4.38" height="13.99"/><rect x="170.33" y="53.09" width="4.38" height="13.99"/><rect x="173.72" y="53.09" width="4.38" height="13.99"/><rect x="217.72" y="53.09" width="4.38" height="13.99"/><rect x="221.11" y="53.09" width="4.38" height="13.99"/><rect x="224.5" y="53.09" width="4.38" height="13.99"/><rect x="227.88" y="53.09" width="4.38" height="13.99"/><rect x="231.26" y="53.09" width="4.38" height="13.99"/><rect x="234.65" y="53.09" width="4.38" height="13.99"/><rect x="238.03" y="53.09" width="4.38" height="13.99"/><rect x="241.42" y="53.09" width="4.38" height="13.99"/><rect x="244.81" y="53.09" width="4.38" height="13.99"/><rect x="248.19" y="53.09" width="4.38" height="13.99"/><rect x="258.34" y="53.09" width="4.38" height="13.99"/><rect x="261.73" y="53.09" width="4.38" height="13.99"/><rect x="275.27" y="53.09" width="4.38" height="13.99"/><rect x="278.65" y="53.09" width="4.38" height="13.99"/><rect x="282.04" y="53.09" width="4.38" height="13.99"/><rect x="285.42" y="53.09" width="4.38" height="13.99"/><rect x="288.81" y="53.09" width="4.38" height="13.99"/><rect x="292.19" y="53.09" width="4.38" height="13.99"/><rect x="295.58" y="53.09" width="4.38" height="13.99"/><rect x="298.96" y="53.09" width="4.38" height="13.99"/><rect x="309.12" y="53.09" width="4.38" height="13.99"/><rect x="312.5" y="53.09" width="4.38" height="13.99"/><rect x="315.89" y="53.09" width="4.38" height="13.99"/><rect x="319.27" y="53.09" width="4.38" height="13.99"/><rect x="336.2" y="53.09" width="4.38" height="13.99"/><rect x="339.58" y="53.09" width="4.38" height="13.99"/><rect x="342.97" y="53.09" width="4.38" height="13.99"/><rect x="346.36" y="53.09" width="4.38" height="13.99"/><rect x="349.74" y="53.09" width="4.38" height="13.99"/><rect x="376.82" y="53.09" width="4.38" height="13.99"/><rect x="390.36" y="53.09" width="4.38" height="13.99"/><rect x="407.28" y="53.09" width="4.38" height="13.99"/><rect x="410.67" y="53.09" width="4.38" height="13.99"/><rect x="417.44" y="53.09" width="4.38" height="13.99"/><rect x="427.6" y="53.09" width="4.38" height="13.99"/><rect x="430.98" y="53.09" width="4.38" height="13.99"/><rect x="444.52" y="53.09" width="4.38" height="13.99"/><rect x="454.67" y="53.09" width="4.38" height="13.99"/><rect x="458.06" y="53.09" width="4.38" height="13.99"/><rect x="461.44" y="53.09" width="4.38" height="13.99"/><rect x="464.83" y="53.09" width="4.38" height="13.99"/><rect x="468.21" y="53.09" width="4.38" height="13.99"/><rect x="502.06" y="53.09" width="4.38" height="13.99"/><rect x="505.45" y="53.09" width="4.38" height="13.99"/><rect x="508.83" y="53.09" width="4.38" height="13.99"/><rect x="133.1" y="66.08" width="4.38" height="13.99"/><rect x="136.48" y="66.08" width="4.38" height="13.99"/><rect x="139.87" y="66.08" width="4.38" height="13.99"/><rect x="143.25" y="66.08" width="4.38" height="13.99"/><rect x="146.64" y="66.08" width="4.38" height="13.99"/><rect x="150.02" y="66.08" width="4.38" height="13.99"/><rect x="217.72" y="66.08" width="4.38" height="13.99"/><rect x="221.11" y="66.08" width="4.38" height="13.99"/><rect x="224.5" y="66.08" width="4.38" height="13.99"/><rect x="227.88" y="66.08" width="4.38" height="13.99"/><rect x="244.81" y="66.08" width="4.38" height="13.99"/><rect x="275.27" y="66.08" width="4.38" height="13.99"/><rect x="278.65" y="66.08" width="4.38" height="13.99"/><rect x="282.04" y="66.08" width="4.38" height="13.99"/><rect x="309.12" y="66.08" width="4.38" height="13.99"/><rect x="336.2" y="66.08" width="4.38" height="13.99"/><rect x="390.36" y="66.08" width="4.38" height="13.99"/><rect x="427.6" y="66.08" width="4.38" height="13.99"/><rect x="444.52" y="66.08" width="4.38" height="13.99"/><rect x="454.67" y="66.08" width="4.38" height="13.99"/><rect x="458.06" y="66.08" width="4.38" height="13.99"/><rect x="461.44" y="66.08" width="4.38" height="13.99"/><rect x="505.45" y="66.08" width="4.38" height="13.99"/><rect x="508.83" y="66.08" width="4.38" height="13.99"/><rect x="133.1" y="79.07" width="4.38" height="13.99"/><rect x="136.48" y="79.07" width="4.38" height="13.99"/><rect x="139.87" y="79.07" width="4.38" height="13.99"/><rect x="217.72" y="79.07" width="4.38" height="13.99"/><rect x="221.11" y="79.07" width="4.38" height="13.99"/><rect x="224.5" y="79.07" width="4.38" height="13.99"/><rect x="275.27" y="79.07" width="4.38" height="13.99"/><rect x="278.65" y="79.07" width="4.38" height="13.99"/><rect x="390.36" y="79.07" width="4.38" height="13.99"/><rect x="427.6" y="79.07" width="4.38" height="13.99"/><rect x="454.67" y="79.07" width="4.38" height="13.99"/><rect x="217.72" y="92.06" width="4.38" height="13.99"/><rect x="221.11" y="92.06" width="4.38" height="13.99"/><rect x="224.5" y="92.06" width="4.38" height="13.99"/><rect x="275.27" y="92.06" width="4.38" height="13.99"/><rect x="390.36" y="92.06" width="4.38" height="13.99"/><rect x="217.72" y="105.05" width="4.38" height="13.99"/><rect x="275.27" y="105.05" width="4.38" height="13.99"/><rect x="390.36" y="105.05" width="4.38" height="13.99"/><rect x="133.1" y="118.04" width="4.38" height="13.99"/><rect x="136.48" y="118.04" width="4.38" height="13.99"/><rect x="139.87" y="118.04" width="4.38" height="13.99"/><rect x="143.25" y="118.04" width="4.38" height="13.99"/><rect x="146.64" y="118.04" width="4.38" height="13.99"/><rect x="150.02" y="118.04" width="4.38" height="13.99"/><rect x="153.41" y="118.04" width="4.38" height="13.99"/><rect x="156.79" y="118.04" width="4.38" height="13.99"/><rect x="160.18" y="118.04" width="4.38" height="13.99"/><rect x="163.56" y="118.04" width="4.38" height="13.99"/><rect x="166.95" y="118.04" width="4.38" height="13.99"/><rect x="170.33" y="118.04" width="4.38" height="13.99"/><rect x="173.72" y="118.04" width="4.38" height="13.99"/><rect x="177.1" y="118.04" width="4.38" height="13.99"/><rect x="180.49" y="118.04" width="4.38" height="13.99"/><rect x="183.88" y="118.04" width="4.38" height="13.99"/><rect x="187.26" y="118.04" width="4.38" height="13.99"/><rect x="190.64" y="118.04" width="4.38" height="13.99"/><rect x="194.03" y="118.04" width="4.38" height="13.99"/><rect x="197.41" y="118.04" width="4.38" height="13.99"/><rect x="200.8" y="118.04" width="4.38" height="13.99"/><rect x="204.19" y="118.04" width="4.38" height="13.99"/><rect x="207.57" y="118.04" width="4.38" height="13.99"/><rect x="210.95" y="118.04" width="4.38" height="13.99"/><rect x="214.34" y="118.04" width="4.38" height="13.99"/><rect x="217.72" y="118.04" width="4.38" height="13.99"/><rect x="221.11" y="118.04" width="4.38" height="13.99"/><rect x="224.5" y="118.04" width="4.38" height="13.99"/><rect x="227.88" y="118.04" width="4.38" height="13.99"/><rect x="231.26" y="118.04" width="4.38" height="13.99"/><rect x="234.65" y="118.04" width="4.38" height="13.99"/><rect x="238.03" y="118.04" width="4.38" height="13.99"/><rect x="241.42" y="118.04" width="4.38" height="13.99"/><rect x="244.81" y="118.04" width="4.38" height="13.99"/><rect x="248.19" y="118.04" width="4.38" height="13.99"/><rect x="251.57" y="118.04" width="4.38" height="13.99"/><rect x="254.96" y="118.04" width="4.38" height="13.99"/><rect x="210.95" y="131.03" width="4.38" height="13.99"/><rect x="214.34" y="131.03" width="4.38" height="13.99"/><rect x="254.96" y="131.03" width="4.38" height="13.99"/><rect x="258.34" y="131.03" width="4.38" height="13.99"/><rect x="261.73" y="131.03" width="4.38" height="13.99"/><rect x="265.12" y="131.03" width="4.38" height="13.99"/><rect x="268.5" y="131.03" width="4.38" height="13.99"/><rect x="271.88" y="131.03" width="4.38" height="13.99"/><rect x="275.27" y="131.03" width="4.38" height="13.99"/><rect x="278.65" y="131.03" width="4.38" height="13.99"/><rect x="282.04" y="131.03" width="4.38" height="13.99"/><rect x="285.42" y="131.03" width="4.38" height="13.99"/><rect x="288.81" y="131.03" width="4.38" height="13.99"/><rect x="292.19" y="131.03" width="4.38" height="13.99"/><rect x="295.58" y="131.03" width="4.38" height="13.99"/><rect x="298.96" y="131.03" width="4.38" height="13.99"/><rect x="302.35" y="131.03" width="4.38" height="13.99"/><rect x="305.74" y="131.03" width="4.38" height="13.99"/><rect x="278.65" y="144.02" width="4.38" height="13.99"/><rect x="309.12" y="144.02" width="4.38" height="13.99"/><rect x="312.5" y="144.02" width="4.38" height="13.99"/><rect x="315.89" y="144.02" width="4.38" height="13.99"/><rect x="319.27" y="144.02" width="4.38" height="13.99"/><rect x="322.66" y="144.02" width="4.38" height="13.99"/><rect x="326.04" y="144.02" width="4.38" height="13.99"/><rect x="329.43" y="144.02" width="4.38" height="13.99"/><rect x="332.81" y="144.02" width="4.38" height="13.99"/><rect x="336.2" y="144.02" width="4.38" height="13.99"/><rect x="339.58" y="144.02" width="4.38" height="13.99"/><rect x="342.97" y="144.02" width="4.38" height="13.99"/><rect x="170.33" y="157.01" width="4.38" height="13.99"/><rect x="265.12" y="157.01" width="4.38" height="13.99"/><rect x="332.81" y="157.01" width="4.38" height="13.99"/><rect x="346.36" y="157.01" width="4.38" height="13.99"/><rect x="349.74" y="157.01" width="4.38" height="13.99"/><rect x="353.12" y="157.01" width="4.38" height="13.99"/><rect x="356.51" y="157.01" width="4.38" height="13.99"/><rect x="139.87" y="170" width="4.38" height="13.99"/><rect x="146.64" y="170" width="4.38" height="13.99"/><rect x="163.56" y="170" width="4.38" height="13.99"/><rect x="170.33" y="170" width="4.38" height="13.99"/><rect x="180.49" y="170" width="4.38" height="13.99"/><rect x="183.88" y="170" width="4.38" height="13.99"/><rect x="187.26" y="170" width="4.38" height="13.99"/><rect x="194.03" y="170" width="4.38" height="13.99"/><rect x="207.57" y="170" width="4.38" height="13.99"/><rect x="214.34" y="170" width="4.38" height="13.99"/><rect x="217.72" y="170" width="4.38" height="13.99"/><rect x="227.88" y="170" width="4.38" height="13.99"/><rect x="241.42" y="170" width="4.38" height="13.99"/><rect x="251.57" y="170" width="4.38" height="13.99"/><rect x="261.73" y="170" width="4.38" height="13.99"/><rect x="268.5" y="170" width="4.38" height="13.99"/><rect x="271.88" y="170" width="4.38" height="13.99"/><rect x="282.04" y="170" width="4.38" height="13.99"/><rect x="292.19" y="170" width="4.38" height="13.99"/><rect x="295.58" y="170" width="4.38" height="13.99"/><rect x="302.35" y="170" width="4.38" height="13.99"/><rect x="312.5" y="170" width="4.38" height="13.99"/><rect x="315.89" y="170" width="4.38" height="13.99"/><rect x="319.27" y="170" width="4.38" height="13.99"/><rect x="336.2" y="170" width="4.38" height="13.99"/><rect x="349.74" y="170" width="4.38" height="13.99"/><rect x="353.12" y="170" width="4.38" height="13.99"/><rect x="359.89" y="170" width="4.38" height="13.99"/><rect x="363.28" y="170" width="4.38" height="13.99"/><rect x="366.66" y="170" width="4.38" height="13.99"/><rect x="370.05" y="170" width="4.38" height="13.99"/><rect x="373.43" y="170" width="4.38" height="13.99"/><rect x="376.82" y="170" width="4.38" height="13.99"/><rect x="380.2" y="170" width="4.38" height="13.99"/><rect x="143.25" y="182.99" width="4.38" height="13.99"/><rect x="160.18" y="182.99" width="4.38" height="13.99"/><rect x="163.56" y="182.99" width="4.38" height="13.99"/><rect x="204.19" y="182.99" width="4.38" height="13.99"/><rect x="214.34" y="182.99" width="4.38" height="13.99"/><rect x="217.72" y="182.99" width="4.38" height="13.99"/><rect x="224.5" y="182.99" width="4.38" height="13.99"/><rect x="244.81" y="182.99" width="4.38" height="13.99"/><rect x="309.12" y="182.99" width="4.38" height="13.99"/><rect x="312.5" y="182.99" width="4.38" height="13.99"/><rect x="319.27" y="182.99" width="4.38" height="13.99"/><rect x="346.36" y="182.99" width="4.38" height="13.99"/><rect x="349.74" y="182.99" width="4.38" height="13.99"/><rect x="366.66" y="182.99" width="4.38" height="13.99"/><rect x="373.43" y="182.99" width="4.38" height="13.99"/><rect x="383.59" y="182.99" width="4.38" height="13.99"/><rect x="386.97" y="182.99" width="4.38" height="13.99"/><rect x="390.36" y="182.99" width="4.38" height="13.99"/><rect x="393.75" y="182.99" width="4.38" height="13.99"/><rect x="397.13" y="182.99" width="4.38" height="13.99"/><rect x="227.88" y="195.98" width="4.38" height="13.99"/><rect x="305.74" y="195.98" width="4.38" height="13.99"/><rect x="326.04" y="195.98" width="4.38" height="13.99"/><rect x="265.12" y="208.97" width="4.38" height="13.99"/><rect x="285.42" y="208.97" width="4.38" height="13.99"/><rect x="288.81" y="208.97" width="4.38" height="13.99"/><rect x="146.64" y="221.96" width="4.38" height="13.99"/><rect x="197.41" y="221.96" width="4.38" height="13.99"/><rect x="200.8" y="221.96" width="4.38" height="13.99"/><rect x="231.26" y="221.96" width="4.38" height="13.99"/><rect x="238.03" y="221.96" width="4.38" height="13.99"/><rect x="251.57" y="221.96" width="4.38" height="13.99"/><rect x="258.34" y="221.96" width="4.38" height="13.99"/><rect x="261.73" y="221.96" width="4.38" height="13.99"/><rect x="265.12" y="221.96" width="4.38" height="13.99"/><rect x="275.27" y="221.96" width="4.38" height="13.99"/><rect x="278.65" y="221.96" width="4.38" height="13.99"/><rect x="302.35" y="221.96" width="4.38" height="13.99"/><rect x="309.12" y="221.96" width="4.38" height="13.99"/><rect x="353.12" y="221.96" width="4.38" height="13.99"/><rect x="366.66" y="221.96" width="4.38" height="13.99"/><rect x="400.51" y="221.96" width="4.38" height="13.99"/><rect x="403.9" y="221.96" width="4.38" height="13.99"/><rect x="407.28" y="221.96" width="4.38" height="13.99"/><rect x="410.67" y="221.96" width="4.38" height="13.99"/><rect x="197.41" y="234.95" width="4.38" height="13.99"/><rect x="251.57" y="234.95" width="4.38" height="13.99"/><rect x="254.96" y="234.95" width="4.38" height="13.99"/><rect x="349.74" y="234.95" width="4.38" height="13.99"/><rect x="414.05" y="234.95" width="4.38" height="13.99"/><rect x="417.44" y="234.95" width="4.38" height="13.99"/><rect x="349.74" y="247.94" width="4.38" height="13.99"/><rect x="356.51" y="247.94" width="4.38" height="13.99"/><rect x="420.82" y="247.94" width="4.38" height="13.99"/><rect x="363.28" y="260.93" width="4.38" height="13.99"/><rect x="136.48" y="273.92" width="4.38" height="13.99"/><rect x="139.87" y="273.92" width="4.38" height="13.99"/><rect x="254.96" y="273.92" width="4.38" height="13.99"/><rect x="261.73" y="273.92" width="4.38" height="13.99"/><rect x="275.27" y="273.92" width="4.38" height="13.99"/><rect x="285.42" y="273.92" width="4.38" height="13.99"/><rect x="292.19" y="273.92" width="4.38" height="13.99"/><rect x="295.58" y="273.92" width="4.38" height="13.99"/><rect x="326.04" y="273.92" width="4.38" height="13.99"/><rect x="329.43" y="273.92" width="4.38" height="13.99"/><rect x="353.12" y="273.92" width="4.38" height="13.99"/><rect x="153.41" y="286.91" width="4.38" height="13.99"/><rect x="248.19" y="286.91" width="4.38" height="13.99"/><rect x="342.97" y="286.91" width="4.38" height="13.99"/><rect x="386.97" y="286.91" width="4.38" height="13.99"/><rect x="393.75" y="286.91" width="4.38" height="13.99"/><rect x="424.21" y="286.91" width="4.38" height="13.99"/><rect x="427.6" y="286.91" width="4.38" height="13.99"/><rect x="430.98" y="286.91" width="4.38" height="13.99"/><rect x="170.33" y="299.9" width="4.38" height="13.99"/><rect x="241.42" y="299.9" width="4.38" height="13.99"/><rect x="298.96" y="299.9" width="4.38" height="13.99"/><rect x="400.51" y="299.9" width="4.38" height="13.99"/><rect x="417.44" y="299.9" width="4.38" height="13.99"/><rect x="434.37" y="299.9" width="4.38" height="13.99"/><rect x="285.42" y="312.89" width="4.38" height="13.99"/><rect x="319.27" y="312.89" width="4.38" height="13.99"/><rect x="326.04" y="312.89" width="4.38" height="13.99"/><rect x="400.51" y="312.89" width="4.38" height="13.99"/><rect x="414.05" y="312.89" width="4.38" height="13.99"/><rect x="437.75" y="312.89" width="4.38" height="13.99"/><rect x="414.05" y="325.88" width="4.38" height="13.99"/><rect x="170.33" y="338.87" width="4.38" height="13.99"/><rect x="353.12" y="338.87" width="4.38" height="13.99"/><rect x="275.27" y="351.86" width="4.38" height="13.99"/><rect x="397.13" y="351.86" width="4.38" height="13.99"/><rect x="400.51" y="351.86" width="4.38" height="13.99"/><rect x="207.57" y="364.85" width="4.38" height="13.99"/><rect x="349.74" y="364.85" width="4.38" height="13.99"/><rect x="414.05" y="364.85" width="4.38" height="13.99"/><rect x="437.75" y="364.85" width="4.38" height="13.99"/><rect x="441.13" y="364.85" width="4.38" height="13.99"/><rect x="305.74" y="377.84" width="4.38" height="13.99"/><rect x="400.51" y="377.84" width="4.38" height="13.99"/><rect x="251.57" y="390.83" width="4.38" height="13.99"/><rect x="261.73" y="390.83" width="4.38" height="13.99"/><rect x="288.81" y="390.83" width="4.38" height="13.99"/><rect x="251.57" y="403.82" width="4.38" height="13.99"/><rect x="194.03" y="416.81" width="4.38" height="13.99"/><rect x="342.97" y="416.81" width="4.38" height="13.99"/><rect x="207.57" y="429.8" width="4.38" height="13.99"/><rect x="248.19" y="429.8" width="4.38" height="13.99"/><rect x="410.67" y="442.79" width="4.38" height="13.99"/><rect x="444.52" y="442.79" width="4.38" height="13.99"/><rect x="292.19" y="455.78" width="4.38" height="13.99"/><rect x="332.81" y="455.78" width="4.38" height="13.99"/><rect x="414.05" y="455.78" width="4.38" height="13.99"/><rect x="444.52" y="455.78" width="4.38" height="13.99"/><rect x="200.8" y="468.77" width="4.38" height="13.99"/><rect x="241.42" y="468.77" width="4.38" height="13.99"/><rect x="271.88" y="468.77" width="4.38" height="13.99"/><rect x="332.81" y="468.77" width="4.38" height="13.99"/><rect x="397.13" y="468.77" width="4.38" height="13.99"/><rect x="447.9" y="468.77" width="4.38" height="13.99"/><rect x="187.26" y="481.76" width="4.38" height="13.99"/><rect x="177.1" y="494.75" width="4.38" height="13.99"/><rect x="282.04" y="494.75" width="4.38" height="13.99"/><rect x="305.74" y="494.75" width="4.38" height="13.99"/><rect x="373.43" y="507.74" width="4.38" height="13.99"/><rect x="451.29" y="520.73" width="4.38" height="13.99"/><rect x="380.2" y="533.72" width="4.38" height="13.99"/><rect x="183.88" y="546.71" width="4.38" height="13.99"/><rect x="265.12" y="546.71" width="4.38" height="13.99"/><rect x="275.27" y="546.71" width="4.38" height="13.99"/><rect x="292.19" y="546.71" width="4.38" height="13.99"/><rect x="298.96" y="546.71" width="4.38" height="13.99"/></g><g><rect x="133.88" y="41.2" width="2.82" height="11.79" fill="#228D44"/><rect x="137.26" y="41.2" width="2.82" height="11.79" fill="#228D44"/><rect x="140.65" y="41.2" width="2.82" height="11.79" fill="#228D44"/><rect x="144.03" y="41.2" width="2.82" height="11.79" fill="#228D44"/><rect x="147.42" y="41.2" width="2.82" height="11.79" fill="#228D44"/><rect x="150.8" y="41.2" width="2.82" height="11.79" fill="#228D44"/><rect x="154.19" y="41.2" width="2.82" height="11.79" fill="#228D44"/><rect x="157.57" y="41.2" width="2.82" height="11.79" fill="#228D44"/><rect x="160.96" y="41.2" width="2.82" height="11.79" fill="#228D44"/><rect x="164.34" y="41.2" width="2.82" height="11.79" fill="#228D44"/><rect x="167.73" y="41.2" width="2.82" height="11.79" fill="#228D44"/><rect x="171.11" y="41.2" width="2.82" height="11.79" fill="#228D44"/><rect x="174.5" y="41.2" width="2.82" height="11.79" fill="#228D44"/><rect x="177.88" y="41.2" width="2.82" height="11.79" fill="#228D44"/><rect x="181.27" y="41.2" width="2.82" height="11.79" fill="#228D44"/><rect x="184.66" y="41.2" width="2.82" height="11.79" fill="#228D44"/><rect x="188.04" y="41.2" width="2.82" height="11.79" fill="#228D44"/><rect x="191.42" y="41.2" width="2.82" height="11.79" fill="#228D44"/><rect x="194.81" y="41.2" width="2.82" height="11.79" fill="#228D44"/><rect x="198.19" y="41.2" width="2.82" height="11.79" fill="#228D44"/><rect x="201.58" y="41.2" width="2.82" height="11.79" fill="#228D44"/><rect x="204.97" y="41.2" width="2.82" height="11.79" fill="#228D44"/><rect x="208.35" y="41.2" width="2.82" height="11.79" fill="#228D44"/><rect x="211.73" y="41.2" width="2.82" height="11.79" fill="#228D44"/><rect x="215.12" y="41.2" width="2.82" height="11.79" fill="#228D44"/><rect x="218.5" y="41.2" width="2.82" height="11.79" fill="#228D44"/><rect x="221.89" y="41.2" width="2.82" height="11.79" fill="#228D44"/><rect x="225.28" y="41.2" width="2.82" height="11.79" fill="#228D44"/><rect x="228.66" y="41.2" width="2.82" height="11.79" fill="#228D44"/><rect x="232.04" y="41.2" width="2.82" height="11.79" fill="#228D44"/><rect x="235.43" y="41.2" width="2.82" height="11.79" fill="#228D44"/><rect x="238.81" y="41.2" width="2.82" height="11.79" fill="#228D44"/><rect x="242.2" y="41.2" width="2.82" height="11.79" fill="#228D44"/><rect x="245.59" y="41.2" width="2.82" height="11.79" fill="#B42E1F"/><rect x="248.97" y="41.2" width="2.82" height="11.79" fill="#B42E1F"/><rect x="252.35" y="41.2" width="2.82" height="11.79" fill="#B42E1F"/><rect x="255.74" y="41.2" width="2.82" height="11.79" fill="#B42E1F"/><rect x="259.12" y="41.2" width="2.82" height="11.79" fill="#228D44"/><rect x="262.51" y="41.2" width="2.82" height="11.79" fill="#228D44"/><rect x="265.89" y="41.2" width="2.82" height="11.79" fill="#228D44"/><rect x="269.28" y="41.2" width="2.82" height="11.79" fill="#228D44"/><rect x="272.66" y="41.2" width="2.82" height="11.79" fill="#228D44"/><rect x="276.05" y="41.2" width="2.82" height="11.79" fill="#228D44"/><rect x="279.43" y="41.2" width="2.82" height="11.79" fill="#228D44"/><rect x="282.82" y="41.2" width="2.82" height="11.79" fill="#228D44"/><rect x="286.2" y="41.2" width="2.82" height="11.79" fill="#228D44"/><rect x="289.59" y="41.2" width="2.82" height="11.79" fill="#B42E1F"/><rect x="292.97" y="41.2" width="2.82" height="11.79" fill="#B42E1F"/><rect x="296.36" y="41.2" width="2.82" height="11.79" fill="#B42E1F"/><rect x="299.74" y="41.2" width="2.82" height="11.79" fill="#B42E1F"/><rect x="303.13" y="41.2" width="2.82" height="11.79" fill="#B42E1F"/><rect x="306.51" y="41.2" width="2.82" height="11.79" fill="#B42E1F"/><rect x="309.9" y="41.2" width="2.82" height="11.79" fill="#228D44"/><rect x="313.28" y="41.2" width="2.82" height="11.79" fill="#228D44"/><rect x="316.67" y="41.2" width="2.82" height="11.79" fill="#228D44"/><rect x="320.05" y="41.2" width="2.82" height="11.79" fill="#228D44"/><rect x="323.44" y="41.2" width="2.82" height="11.79" fill="#228D44"/><rect x="326.82" y="41.2" width="2.82" height="11.79" fill="#228D44"/><rect x="330.21" y="41.2" width="2.82" height="11.79" fill="#228D44"/><rect x="333.59" y="41.2" width="2.82" height="11.79" fill="#228D44"/><rect x="336.98" y="41.2" width="2.82" height="11.79" fill="#228D44"/><rect x="340.36" y="41.2" width="2.82" height="11.79" fill="#B42E1F"/><rect x="343.75" y="41.2" width="2.82" height="11.79" fill="#B42E1F"/><rect x="347.13" y="41.2" width="2.82" height="11.79" fill="#228D44"/><rect x="350.52" y="41.2" width="2.82" height="11.79" fill="#228D44"/><rect x="353.9" y="41.2" width="2.82" height="11.79" fill="#228D44"/><rect x="357.29" y="41.2" width="2.82" height="11.79" fill="#228D44"/><rect x="360.67" y="41.2" width="2.82" height="11.79" fill="#228D44"/><rect x="364.06" y="41.2" width="2.82" height="11.79" fill="#228D44"/><rect x="367.44" y="41.2" width="2.82" height="11.79" fill="#228D44"/><rect x="370.83" y="41.2" width="2.82" height="11.79" fill="#228D44"/><rect x="374.21" y="41.2" width="2.82" height="11.79" fill="#228D44"/><rect x="377.6" y="41.2" width="2.82" height="11.79" fill="#B42E1F"/><rect x="380.98" y="41.2" width="2.82" height="11.79" fill="#B42E1F"/><rect x="384.37" y="41.2" width="2.82" height="11.79" fill="#228D44"/><rect x="387.75" y="41.2" width="2.82" height="11.79" fill="#228D44"/><rect x="391.14" y="41.2" width="2.82" height="11.79" fill="#228D44"/><rect x="394.52" y="41.2" width="2.82" height="11.79" fill="#B42E1F"/><rect x="397.91" y="41.2" width="2.82" height="11.79" fill="#B42E1F"/><rect x="401.29" y="41.2" width="2.82" height="11.79" fill="#228D44"/><rect x="404.68" y="41.2" width="2.82" height="11.79" fill="#228D44"/><rect x="408.06" y="41.2" width="2.82" height="11.79" fill="#228D44"/><rect x="411.45" y="41.2" width="2.82" height="11.79" fill="#B42E1F"/><rect x="414.83" y="41.2" width="2.82" height="11.79" fill="#228D44"/><rect x="418.22" y="41.2" width="2.82" height="11.79" fill="#B42E1F"/><rect x="421.6" y="41.2" width="2.82" height="11.79" fill="#228D44"/><rect x="424.99" y="41.2" width="2.82" height="11.79" fill="#228D44"/><rect x="428.38" y="41.2" width="2.82" height="11.79" fill="#228D44"/><rect x="431.76" y="41.2" width="2.82" height="11.79" fill="#B42E1F"/><rect x="435.14" y="41.2" width="2.82" height="11.79" fill="#228D44"/><rect x="438.53" y="41.2" width="2.82" height="11.79" fill="#B42E1F"/><rect x="441.91" y="41.2" width="2.82" height="11.79" fill="#228D44"/><rect x="445.3" y="41.2" width="2.82" height="11.79" fill="#228D44"/><rect x="448.68" y="41.2" width="2.82" height="11.79" fill="#B42E1F"/><rect x="452.07" y="41.2" width="2.82" height="11.79" fill="#B42E1F"/><rect x="455.45" y="41.2" width="2.82" height="11.79" fill="#228D44"/><rect x="458.84" y="41.2" width="2.82" height="11.79" fill="#228D44"/><rect x="462.22" y="41.2" width="2.82" height="11.79" fill="#228D44"/><rect x="465.61" y="41.2" width="2.82" height="11.79" fill="#228D44"/><rect x="468.99" y="41.2" width="2.82" height="11.79" fill="#228D44"/><rect x="472.38" y="41.2" width="2.82" height="11.79" fill="#228D44"/><rect x="475.76" y="41.2" width="2.82" height="11.79" fill="#228D44"/><rect x="479.15" y="41.2" width="2.82" height="11.79" fill="#228D44"/><rect x="482.53" y="41.2" width="2.82" height="11.79" fill="#228D44"/><rect x="485.92" y="41.2" width="2.82" height="11.79" fill="#228D44"/><rect x="489.3" y="41.2" width="2.82" height="11.79" fill="#228D44"/><rect x="492.69" y="41.2" width="2.82" height="11.79" fill="#228D44"/><rect x="496.07" y="41.2" width="2.82" height="11.79" fill="#228D44"/><rect x="499.46" y="41.2" width="2.82" height="11.79" fill="#228D44"/><rect x="502.84" y="41.2" width="2.82" height="11.79" fill="#B42E1F"/><rect x="506.23" y="41.2" width="2.82" height="11.79" fill="#B42E1F"/><rect x="509.61" y="41.2" width="2.82" height="11.79" fill="#228D44"/><rect x="133.88" y="54.19" width="2.82" height="11.79" fill="#228D44"/><rect x="137.26" y="54.19" width="2.82" height="11.79" fill="#228D44"/><rect x="140.65" y="54.19" width="2.82" height="11.79" fill="#228D44"/><rect x="144.03" y="54.19" width="2.82" height="11.79" fill="#228D44"/><rect x="147.42" y="54.19" width="2.82" height="11.79" fill="#228D44"/><rect x="150.8" y="54.19" width="2.82" height="11.79" fill="#228D44"/><rect x="154.19" y="54.19" width="2.82" height="11.79" fill="#228D44"/><rect x="157.57" y="54.19" width="2.82" height="11.79" fill="#228D44"/><rect x="160.96" y="54.19" width="2.82" height="11.79" fill="#228D44"/><rect x="164.34" y="54.19" width="2.82" height="11.79" fill="#228D44"/><rect x="167.73" y="54.19" width="2.82" height="11.79" fill="#228D44"/><rect x="171.11" y="54.19" width="2.82" height="11.79" fill="#228D44"/><rect x="174.5" y="54.19" width="2.82" height="11.79" fill="#228D44"/><rect x="218.5" y="54.19" width="2.82" height="11.79" fill="#B42E1F"/><rect x="221.89" y="54.19" width="2.82" height="11.79" fill="#B42E1F"/><rect x="225.28" y="54.19" width="2.82" height="11.79" fill="#228D44"/><rect x="228.66" y="54.19" width="2.82" height="11.79" fill="#228D44"/><rect x="232.04" y="54.19" width="2.82" height="11.79" fill="#B42E1F"/><rect x="235.43" y="54.19" width="2.82" height="11.79" fill="#B42E1F"/><rect x="238.81" y="54.19" width="2.82" height="11.79" fill="#B42E1F"/><rect x="242.2" y="54.19" width="2.82" height="11.79" fill="#B42E1F"/><rect x="245.59" y="54.19" width="2.82" height="11.79" fill="#B42E1F"/><rect x="248.97" y="54.19" width="2.82" height="11.79" fill="#B42E1F"/><rect x="259.12" y="54.19" width="2.82" height="11.79" fill="#228D44"/><rect x="262.51" y="54.19" width="2.82" height="11.79" fill="#228D44"/><rect x="276.05" y="54.19" width="2.82" height="11.79" fill="#B42E1F"/><rect x="279.43" y="54.19" width="2.82" height="11.79" fill="#B42E1F"/><rect x="282.82" y="54.19" width="2.82" height="11.79" fill="#228D44"/><rect x="286.2" y="54.19" width="2.82" height="11.79" fill="#B42E1F"/><rect x="289.59" y="54.19" width="2.82" height="11.79" fill="#B42E1F"/><rect x="292.97" y="54.19" width="2.82" height="11.79" fill="#B42E1F"/><rect x="296.36" y="54.19" width="2.82" height="11.79" fill="#B42E1F"/><rect x="299.74" y="54.19" width="2.82" height="11.79" fill="#B42E1F"/><rect x="309.9" y="54.19" width="2.82" height="11.79" fill="#228D44"/><rect x="313.28" y="54.19" width="2.82" height="11.79" fill="#228D44"/><rect x="316.67" y="54.19" width="2.82" height="11.79" fill="#228D44"/><rect x="320.05" y="54.19" width="2.82" height="11.79" fill="#228D44"/><rect x="336.98" y="54.19" width="2.82" height="11.79" fill="#B42E1F"/><rect x="340.36" y="54.19" width="2.82" height="11.79" fill="#B42E1F"/><rect x="343.75" y="54.19" width="2.82" height="11.79" fill="#B42E1F"/><rect x="347.13" y="54.19" width="2.82" height="11.79" fill="#228D44"/><rect x="350.52" y="54.19" width="2.82" height="11.79" fill="#228D44"/><rect x="377.6" y="54.19" width="2.82" height="11.79" fill="#B42E1F"/><rect x="391.14" y="54.19" width="2.82" height="11.79" fill="#B42E1F"/><rect x="408.06" y="54.19" width="2.82" height="11.79" fill="#B42E1F"/><rect x="411.45" y="54.19" width="2.82" height="11.79" fill="#B42E1F"/><rect x="418.22" y="54.19" width="2.82" height="11.79" fill="#B42E1F"/><rect x="428.38" y="54.19" width="2.82" height="11.79" fill="#228D44"/><rect x="431.76" y="54.19" width="2.82" height="11.79" fill="#B42E1F"/><rect x="445.3" y="54.19" width="2.82" height="11.79" fill="#228D44"/><rect x="455.45" y="54.19" width="2.82" height="11.79" fill="#228D44"/><rect x="458.84" y="54.19" width="2.82" height="11.79" fill="#228D44"/><rect x="462.22" y="54.19" width="2.82" height="11.79" fill="#228D44"/><rect x="465.61" y="54.19" width="2.82" height="11.79" fill="#228D44"/><rect x="468.99" y="54.19" width="2.82" height="11.79" fill="#228D44"/><rect x="502.84" y="54.19" width="2.82" height="11.79" fill="#228D44"/><rect x="506.23" y="54.19" width="2.82" height="11.79" fill="#228D44"/><rect x="509.61" y="54.19" width="2.82" height="11.79" fill="#B42E1F"/><rect x="133.88" y="67.18" width="2.82" height="11.79" fill="#228D44"/><rect x="137.26" y="67.18" width="2.82" height="11.79" fill="#228D44"/><rect x="140.65" y="67.18" width="2.82" height="11.79" fill="#228D44"/><rect x="144.03" y="67.18" width="2.82" height="11.79" fill="#228D44"/><rect x="147.42" y="67.18" width="2.82" height="11.79" fill="#228D44"/><rect x="150.8" y="67.18" width="2.82" height="11.79" fill="#228D44"/><rect x="218.5" y="67.18" width="2.82" height="11.79" fill="#228D44"/><rect x="221.89" y="67.18" width="2.82" height="11.79" fill="#228D44"/><rect x="225.28" y="67.18" width="2.82" height="11.79" fill="#B42E1F"/><rect x="228.66" y="67.18" width="2.82" height="11.79" fill="#B42E1F"/><rect x="245.59" y="67.18" width="2.82" height="11.79" fill="#B42E1F"/><rect x="276.05" y="67.18" width="2.82" height="11.79" fill="#228D44"/><rect x="279.43" y="67.18" width="2.82" height="11.79" fill="#228D44"/><rect x="282.82" y="67.18" width="2.82" height="11.79" fill="#B42E1F"/><rect x="309.9" y="67.18" width="2.82" height="11.79" fill="#228D44"/><rect x="336.98" y="67.18" width="2.82" height="11.79" fill="#B42E1F"/><rect x="391.14" y="67.18" width="2.82" height="11.79" fill="#228D44"/><rect x="428.38" y="67.18" width="2.82" height="11.79" fill="#228D44"/><rect x="445.3" y="67.18" width="2.82" height="11.79" fill="#B42E1F"/><rect x="455.45" y="67.18" width="2.82" height="11.79" fill="#228D44"/><rect x="458.84" y="67.18" width="2.82" height="11.79" fill="#228D44"/><rect x="462.22" y="67.18" width="2.82" height="11.79" fill="#228D44"/><rect x="506.23" y="67.18" width="2.82" height="11.79" fill="#228D44"/><rect x="509.61" y="67.18" width="2.82" height="11.79" fill="#B42E1F"/><rect x="133.88" y="80.17" width="2.82" height="11.79" fill="#228D44"/><rect x="137.26" y="80.17" width="2.82" height="11.79" fill="#228D44"/><rect x="140.65" y="80.17" width="2.82" height="11.79" fill="#228D44"/><rect x="218.5" y="80.17" width="2.82" height="11.79" fill="#228D44"/><rect x="221.89" y="80.17" width="2.82" height="11.79" fill="#228D44"/><rect x="225.28" y="80.17" width="2.82" height="11.79" fill="#228D44"/><rect x="276.05" y="80.17" width="2.82" height="11.79" fill="#B42E1F"/><rect x="279.43" y="80.17" width="2.82" height="11.79" fill="#228D44"/><rect x="391.14" y="80.17" width="2.82" height="11.79" fill="#B42E1F"/><rect x="428.38" y="80.17" width="2.82" height="11.79" fill="#B42E1F"/><rect x="455.45" y="80.17" width="2.82" height="11.79" fill="#228D44"/><rect x="218.5" y="93.16" width="2.82" height="11.79" fill="#228D44"/><rect x="221.89" y="93.16" width="2.82" height="11.79" fill="#B42E1F"/><rect x="225.28" y="93.16" width="2.82" height="11.79" fill="#228D44"/><rect x="276.05" y="93.16" width="2.82" height="11.79" fill="#B42E1F"/><rect x="391.14" y="93.16" width="2.82" height="11.79" fill="#B42E1F"/><rect x="218.5" y="106.15" width="2.82" height="11.79" fill="#B42E1F"/><rect x="276.05" y="106.15" width="2.82" height="11.79" fill="#B42E1F"/><rect x="391.14" y="106.15" width="2.82" height="11.79" fill="#B42E1F"/><rect x="133.88" y="119.14" width="2.82" height="11.79" fill="#34A3DA"/><rect x="137.26" y="119.14" width="2.82" height="11.79" fill="#34A3DA"/><rect x="140.65" y="119.14" width="2.82" height="11.79" fill="#34A3DA"/><rect x="144.03" y="119.14" width="2.82" height="11.79" fill="#34A3DA"/><rect x="147.42" y="119.14" width="2.82" height="11.79" fill="#34A3DA"/><rect x="150.8" y="119.14" width="2.82" height="11.79" fill="#34A3DA"/><rect x="154.19" y="119.14" width="2.82" height="11.79" fill="#34A3DA"/><rect x="157.57" y="119.14" width="2.82" height="11.79" fill="#34A3DA"/><rect x="160.96" y="119.14" width="2.82" height="11.79" fill="#34A3DA"/><rect x="164.34" y="119.14" width="2.82" height="11.79" fill="#34A3DA"/><rect x="167.73" y="119.14" width="2.82" height="11.79" fill="#34A3DA"/><rect x="171.11" y="119.14" width="2.82" height="11.79" fill="#34A3DA"/><rect x="174.5" y="119.14" width="2.82" height="11.79" fill="#34A3DA"/><rect x="177.88" y="119.14" width="2.82" height="11.79" fill="#34A3DA"/><rect x="181.27" y="119.14" width="2.82" height="11.79" fill="#34A3DA"/><rect x="184.66" y="119.14" width="2.82" height="11.79" fill="#34A3DA"/><rect x="188.04" y="119.14" width="2.82" height="11.79" fill="#34A3DA"/><rect x="191.42" y="119.14" width="2.82" height="11.79" fill="#34A3DA"/><rect x="194.81" y="119.14" width="2.82" height="11.79" fill="#34A3DA"/><rect x="198.19" y="119.14" width="2.82" height="11.79" fill="#34A3DA"/><rect x="201.58" y="119.14" width="2.82" height="11.79" fill="#34A3DA"/><rect x="204.97" y="119.14" width="2.82" height="11.79" fill="#34A3DA"/><rect x="208.35" y="119.14" width="2.82" height="11.79" fill="#34A3DA"/><rect x="211.73" y="119.14" width="2.82" height="11.79" fill="#34A3DA"/><rect x="215.12" y="119.14" width="2.82" height="11.79" fill="#34A3DA"/><rect x="218.5" y="119.14" width="2.82" height="11.79" fill="#34A3DA"/><rect x="221.89" y="119.14" width="2.82" height="11.79" fill="#34A3DA"/><rect x="225.28" y="119.14" width="2.82" height="11.79" fill="#34A3DA"/><rect x="228.66" y="119.14" width="2.82" height="11.79" fill="#34A3DA"/><rect x="232.04" y="119.14" width="2.82" height="11.79" fill="#34A3DA"/><rect x="235.43" y="119.14" width="2.82" height="11.79" fill="#34A3DA"/><rect x="238.81" y="119.14" width="2.82" height="11.79" fill="#34A3DA"/><rect x="242.2" y="119.14" width="2.82" height="11.79" fill="#34A3DA"/><rect x="245.59" y="119.14" width="2.82" height="11.79" fill="#34A3DA"/><rect x="248.97" y="119.14" width="2.82" height="11.79" fill="#34A3DA"/><rect x="252.35" y="119.14" width="2.82" height="11.79" fill="#34A3DA"/><rect x="255.74" y="119.14" width="2.82" height="11.79" fill="#34A3DA"/><rect x="211.73" y="132.13" width="2.82" height="11.79" fill="#34A3DA"/><rect x="215.12" y="132.13" width="2.82" height="11.79" fill="#34A3DA"/><rect x="255.74" y="132.13" width="2.82" height="11.79" fill="#34A3DA"/><rect x="259.12" y="132.13" width="2.82" height="11.79" fill="#34A3DA"/><rect x="262.51" y="132.13" width="2.82" height="11.79" fill="#34A3DA"/><rect x="265.89" y="132.13" width="2.82" height="11.79" fill="#34A3DA"/><rect x="269.28" y="132.13" width="2.82" height="11.79" fill="#34A3DA"/><rect x="272.66" y="132.13" width="2.82" height="11.79" fill="#34A3DA"/><rect x="276.05" y="132.13" width="2.82" height="11.79" fill="#34A3DA"/><rect x="279.43" y="132.13" width="2.82" height="11.79" fill="#34A3DA"/><rect x="282.82" y="132.13" width="2.82" height="11.79" fill="#34A3DA"/><rect x="286.2" y="132.13" width="2.82" height="11.79" fill="#34A3DA"/><rect x="289.59" y="132.13" width="2.82" height="11.79" fill="#34A3DA"/><rect x="292.97" y="132.13" width="2.82" height="11.79" fill="#34A3DA"/><rect x="296.36" y="132.13" width="2.82" height="11.79" fill="#34A3DA"/><rect x="299.74" y="132.13" width="2.82" height="11.79" fill="#34A3DA"/><rect x="303.13" y="132.13" width="2.82" height="11.79" fill="#34A3DA"/><rect x="306.51" y="132.13" width="2.82" height="11.79" fill="#34A3DA"/><rect x="279.43" y="145.12" width="2.82" height="11.79" fill="#34A3DA"/><rect x="309.9" y="145.12" width="2.82" height="11.79" fill="#34A3DA"/><rect x="313.28" y="145.12" width="2.82" height="11.79" fill="#34A3DA"/><rect x="316.67" y="145.12" width="2.82" height="11.79" fill="#34A3DA"/><rect x="320.05" y="145.12" width="2.82" height="11.79" fill="#34A3DA"/><rect x="323.44" y="145.12" width="2.82" height="11.79" fill="#34A3DA"/><rect x="326.82" y="145.12" width="2.82" height="11.79" fill="#34A3DA"/><rect x="330.21" y="145.12" width="2.82" height="11.79" fill="#34A3DA"/><rect x="333.59" y="145.12" width="2.82" height="11.79" fill="#34A3DA"/><rect x="336.98" y="145.12" width="2.82" height="11.79" fill="#34A3DA"/><rect x="340.36" y="145.12" width="2.82" height="11.79" fill="#34A3DA"/><rect x="343.75" y="145.12" width="2.82" height="11.79" fill="#34A3DA"/><rect x="171.11" y="158.11" width="2.82" height="11.79" fill="#34A3DA"/><rect x="265.89" y="158.11" width="2.82" height="11.79" fill="#34A3DA"/><rect x="333.59" y="158.11" width="2.82" height="11.79" fill="#34A3DA"/><rect x="347.13" y="158.11" width="2.82" height="11.79" fill="#34A3DA"/><rect x="350.52" y="158.11" width="2.82" height="11.79" fill="#34A3DA"/><rect x="353.9" y="158.11" width="2.82" height="11.79" fill="#34A3DA"/><rect x="357.29" y="158.11" width="2.82" height="11.79" fill="#34A3DA"/><rect x="140.65" y="171.1" width="2.82" height="11.79" fill="#522C85"/><rect x="147.42" y="171.1" width="2.82" height="11.79" fill="#522C85"/><rect x="164.34" y="171.1" width="2.82" height="11.79" fill="#522C85"/><rect x="171.11" y="171.1" width="2.82" height="11.79" fill="#522C85"/><rect x="181.27" y="171.1" width="2.82" height="11.79" fill="#522C85"/><rect x="184.66" y="171.1" width="2.82" height="11.79" fill="#522C85"/><rect x="188.04" y="171.1" width="2.82" height="11.79" fill="#522C85"/><rect x="194.81" y="171.1" width="2.82" height="11.79" fill="#522C85"/><rect x="208.35" y="171.1" width="2.82" height="11.79" fill="#522C85"/><rect x="215.12" y="171.1" width="2.82" height="11.79" fill="#522C85"/><rect x="218.5" y="171.1" width="2.82" height="11.79" fill="#522C85"/><rect x="228.66" y="171.1" width="2.82" height="11.79" fill="#522C85"/><rect x="242.2" y="171.1" width="2.82" height="11.79" fill="#522C85"/><rect x="252.35" y="171.1" width="2.82" height="11.79" fill="#522C85"/><rect x="262.51" y="171.1" width="2.82" height="11.79" fill="#522C85"/><rect x="269.28" y="171.1" width="2.82" height="11.79" fill="#522C85"/><rect x="272.66" y="171.1" width="2.82" height="11.79" fill="#522C85"/><rect x="282.82" y="171.1" width="2.82" height="11.79" fill="#522C85"/><rect x="292.97" y="171.1" width="2.82" height="11.79" fill="#522C85"/><rect x="296.36" y="171.1" width="2.82" height="11.79" fill="#522C85"/><rect x="303.13" y="171.1" width="2.82" height="11.79" fill="#522C85"/><rect x="313.28" y="171.1" width="2.82" height="11.79" fill="#522C85"/><rect x="316.67" y="171.1" width="2.82" height="11.79" fill="#522C85"/><rect x="320.05" y="171.1" width="2.82" height="11.79" fill="#522C85"/><rect x="336.98" y="171.1" width="2.82" height="11.79" fill="#522C85"/><rect x="350.52" y="171.1" width="2.82" height="11.79" fill="#522C85"/><rect x="353.9" y="171.1" width="2.82" height="11.79" fill="#522C85"/><rect x="360.67" y="171.1" width="2.82" height="11.79" fill="#522C85"/><rect x="364.06" y="171.1" width="2.82" height="11.79" fill="#522C85"/><rect x="367.44" y="171.1" width="2.82" height="11.79" fill="#522C85"/><rect x="370.83" y="171.1" width="2.82" height="11.79" fill="#522C85"/><rect x="374.21" y="171.1" width="2.82" height="11.79" fill="#522C85"/><rect x="377.6" y="171.1" width="2.82" height="11.79" fill="#522C85"/><rect x="380.98" y="171.1" width="2.82" height="11.79" fill="#522C85"/><rect x="144.03" y="184.09" width="2.82" height="11.79" fill="#522C85"/><rect x="160.96" y="184.09" width="2.82" height="11.79" fill="#522C85"/><rect x="164.34" y="184.09" width="2.82" height="11.79" fill="#522C85"/><rect x="204.97" y="184.09" width="2.82" height="11.79" fill="#522C85"/><rect x="215.12" y="184.09" width="2.82" height="11.79" fill="#522C85"/><rect x="218.5" y="184.09" width="2.82" height="11.79" fill="#522C85"/><rect x="225.28" y="184.09" width="2.82" height="11.79" fill="#522C85"/><rect x="245.59" y="184.09" width="2.82" height="11.79" fill="#522C85"/><rect x="309.9" y="184.09" width="2.82" height="11.79" fill="#522C85"/><rect x="313.28" y="184.09" width="2.82" height="11.79" fill="#522C85"/><rect x="320.05" y="184.09" width="2.82" height="11.79" fill="#522C85"/><rect x="347.13" y="184.09" width="2.82" height="11.79" fill="#522C85"/><rect x="350.52" y="184.09" width="2.82" height="11.79" fill="#522C85"/><rect x="367.44" y="184.09" width="2.82" height="11.79" fill="#522C85"/><rect x="374.21" y="184.09" width="2.82" height="11.79" fill="#522C85"/><rect x="384.37" y="184.09" width="2.82" height="11.79" fill="#522C85"/><rect x="387.75" y="184.09" width="2.82" height="11.79" fill="#522C85"/><rect x="391.14" y="184.09" width="2.82" height="11.79" fill="#522C85"/><rect x="394.52" y="184.09" width="2.82" height="11.79" fill="#522C85"/><rect x="397.91" y="184.09" width="2.82" height="11.79" fill="#522C85"/><rect x="228.66" y="197.08" width="2.82" height="11.79" fill="#522C85"/><rect x="306.51" y="197.08" width="2.82" height="11.79" fill="#522C85"/><rect x="326.82" y="197.08" width="2.82" height="11.79" fill="#522C85"/><rect x="265.89" y="210.07" width="2.82" height="11.79" fill="#522C85"/><rect x="286.2" y="210.07" width="2.82" height="11.79" fill="#522C85"/><rect x="289.59" y="210.07" width="2.82" height="11.79" fill="#522C85"/><rect x="147.42" y="223.06" width="2.82" height="11.79" fill="#A91E22"/><rect x="198.19" y="223.06" width="2.82" height="11.79" fill="#A91E22"/><rect x="201.58" y="223.06" width="2.82" height="11.79" fill="#A91E22"/><rect x="232.04" y="223.06" width="2.82" height="11.79" fill="#A91E22"/><rect x="238.81" y="223.06" width="2.82" height="11.79" fill="#A91E22"/><rect x="252.35" y="223.06" width="2.82" height="11.79" fill="#A91E22"/><rect x="259.12" y="223.06" width="2.82" height="11.79" fill="#A91E22"/><rect x="262.51" y="223.06" width="2.82" height="11.79" fill="#A91E22"/><rect x="265.89" y="223.06" width="2.82" height="11.79" fill="#A91E22"/><rect x="276.05" y="223.06" width="2.82" height="11.79" fill="#A91E22"/><rect x="279.43" y="223.06" width="2.82" height="11.79" fill="#A91E22"/><rect x="303.13" y="223.06" width="2.82" height="11.79" fill="#A91E22"/><rect x="309.9" y="223.06" width="2.82" height="11.79" fill="#A91E22"/><rect x="353.9" y="223.06" width="2.82" height="11.79" fill="#A91E22"/><rect x="367.44" y="223.06" width="2.82" height="11.79" fill="#A91E22"/><rect x="401.29" y="223.06" width="2.82" height="11.79" fill="#A91E22"/><rect x="404.68" y="223.06" width="2.82" height="11.79" fill="#A91E22"/><rect x="408.06" y="223.06" width="2.82" height="11.79" fill="#A91E22"/><rect x="411.45" y="223.06" width="2.82" height="11.79" fill="#A91E22"/><rect x="198.19" y="236.05" width="2.82" height="11.79" fill="#A91E22"/><rect x="252.35" y="236.05" width="2.82" height="11.79" fill="#A91E22"/><rect x="255.74" y="236.05" width="2.82" height="11.79" fill="#A91E22"/><rect x="350.52" y="236.05" width="2.82" height="11.79" fill="#A91E22"/><rect x="414.83" y="236.05" width="2.82" height="11.79" fill="#A91E22"/><rect x="418.22" y="236.05" width="2.82" height="11.79" fill="#A91E22"/><rect x="350.52" y="249.04" width="2.82" height="11.79" fill="#A91E22"/><rect x="357.29" y="249.04" width="2.82" height="11.79" fill="#A91E22"/><rect x="421.6" y="249.04" width="2.82" height="11.79" fill="#A91E22"/><rect x="364.06" y="262.03" width="2.82" height="11.79" fill="#A91E22"/><rect x="137.26" y="275.02" width="2.82" height="11.79" fill="#3062AA"/><rect x="140.65" y="275.02" width="2.82" height="11.79" fill="#3062AA"/><rect x="255.74" y="275.02" width="2.82" height="11.79" fill="#3062AA"/><rect x="262.51" y="275.02" width="2.82" height="11.79" fill="#3062AA"/><rect x="276.05" y="275.02" width="2.82" height="11.79" fill="#3062AA"/><rect x="286.2" y="275.02" width="2.82" height="11.79" fill="#3062AA"/><rect x="292.97" y="275.02" width="2.82" height="11.79" fill="#3062AA"/><rect x="296.36" y="275.02" width="2.82" height="11.79" fill="#3062AA"/><rect x="326.82" y="275.02" width="2.82" height="11.79" fill="#3062AA"/><rect x="330.21" y="275.02" width="2.82" height="11.79" fill="#3062AA"/><rect x="353.9" y="275.02" width="2.82" height="11.79" fill="#3062AA"/><rect x="154.19" y="288.01" width="2.82" height="11.79" fill="#3062AA"/><rect x="248.97" y="288.01" width="2.82" height="11.79" fill="#3062AA"/><rect x="343.75" y="288.01" width="2.82" height="11.79" fill="#3062AA"/><rect x="387.75" y="288.01" width="2.82" height="11.79" fill="#3062AA"/><rect x="394.52" y="288.01" width="2.82" height="11.79" fill="#3062AA"/><rect x="424.99" y="288.01" width="2.82" height="11.79" fill="#3062AA"/><rect x="428.38" y="288.01" width="2.82" height="11.79" fill="#3062AA"/><rect x="431.76" y="288.01" width="2.82" height="11.79" fill="#3062AA"/><rect x="171.11" y="301" width="2.82" height="11.79" fill="#3062AA"/><rect x="242.2" y="301" width="2.82" height="11.79" fill="#3062AA"/><rect x="299.74" y="301" width="2.82" height="11.79" fill="#3062AA"/><rect x="401.29" y="301" width="2.82" height="11.79" fill="#3062AA"/><rect x="418.22" y="301" width="2.82" height="11.79" fill="#3062AA"/><rect x="435.14" y="301" width="2.82" height="11.79" fill="#3062AA"/><rect x="286.2" y="313.99" width="2.82" height="11.79" fill="#3062AA"/><rect x="320.05" y="313.99" width="2.82" height="11.79" fill="#3062AA"/><rect x="326.82" y="313.99" width="2.82" height="11.79" fill="#3062AA"/><rect x="401.29" y="313.99" width="2.82" height="11.79" fill="#3062AA"/><rect x="414.83" y="313.99" width="2.82" height="11.79" fill="#3062AA"/><rect x="438.53" y="313.99" width="2.82" height="11.79" fill="#3062AA"/><rect x="414.83" y="326.98" width="2.82" height="11.79" fill="#3062AA"/><rect x="171.11" y="339.97" width="2.82" height="11.79" fill="#3062AA"/><rect x="353.9" y="339.97" width="2.82" height="11.79" fill="#3062AA"/><rect x="276.05" y="352.96" width="2.82" height="11.79" fill="#3062AA"/><rect x="397.91" y="352.96" width="2.82" height="11.79" fill="#3062AA"/><rect x="401.29" y="352.96" width="2.82" height="11.79" fill="#3062AA"/><rect x="208.35" y="365.95" width="2.82" height="11.79" fill="#3062AA"/><rect x="350.52" y="365.95" width="2.82" height="11.79" fill="#3062AA"/><rect x="414.83" y="365.95" width="2.82" height="11.79" fill="#3062AA"/><rect x="438.53" y="365.95" width="2.82" height="11.79" fill="#3062AA"/><rect x="441.91" y="365.95" width="2.82" height="11.79" fill="#3062AA"/><rect x="306.51" y="378.94" width="2.82" height="11.79" fill="#D6AE28"/><rect x="401.29" y="378.94" width="2.82" height="11.79" fill="#D6AE28"/><rect x="252.35" y="391.93" width="2.82" height="11.79" fill="#D6AE28"/><rect x="262.51" y="391.93" width="2.82" height="11.79" fill="#D6AE28"/><rect x="289.59" y="391.93" width="2.82" height="11.79" fill="#D6AE28"/><rect x="252.35" y="404.92" width="2.82" height="11.79" fill="#D6AE28"/><rect x="194.81" y="417.91" width="2.82" height="11.79" fill="#D6AE28"/><rect x="343.75" y="417.91" width="2.82" height="11.79" fill="#D6AE28"/><rect x="208.35" y="430.9" width="2.82" height="11.79" fill="#D6AE28"/><rect x="248.97" y="430.9" width="2.82" height="11.79" fill="#D6AE28"/><rect x="411.45" y="443.89" width="2.82" height="11.79" fill="#D6AE28"/><rect x="445.3" y="443.89" width="2.82" height="11.79" fill="#D6AE28"/><rect x="292.97" y="456.88" width="2.82" height="11.79" fill="#D6AE28"/><rect x="333.59" y="456.88" width="2.82" height="11.79" fill="#D6AE28"/><rect x="414.83" y="456.88" width="2.82" height="11.79" fill="#D6AE28"/><rect x="445.3" y="456.88" width="2.82" height="11.79" fill="#D6AE28"/><rect x="201.58" y="469.87" width="2.82" height="11.79" fill="#D6AE28"/><rect x="242.2" y="469.87" width="2.82" height="11.79" fill="#D6AE28"/><rect x="272.66" y="469.87" width="2.82" height="11.79" fill="#D6AE28"/><rect x="333.59" y="469.87" width="2.82" height="11.79" fill="#D6AE28"/><rect x="397.91" y="469.87" width="2.82" height="11.79" fill="#D6AE28"/><rect x="448.68" y="469.87" width="2.82" height="11.79" fill="#D6AE28"/><rect x="188.04" y="482.86" width="2.82" height="11.79" fill="#D6AE28"/><rect x="177.88" y="495.85" width="2.82" height="11.79" fill="#D6AE28"/><rect x="282.82" y="495.85" width="2.82" height="11.79" fill="#D6AE28"/><rect x="306.51" y="495.85" width="2.82" height="11.79" fill="#D6AE28"/><rect x="374.21" y="508.84" width="2.82" height="11.79" fill="#D6AE28"/><rect x="452.07" y="521.83" width="2.82" height="11.79" fill="#D6AE28"/><rect x="380.98" y="534.82" width="2.82" height="11.79" fill="#D6AE28"/><rect x="184.66" y="547.81" width="2.82" height="11.79" fill="#D6AE28"/><rect x="265.89" y="547.81" width="2.82" height="11.79" fill="#D6AE28"/><rect x="276.05" y="547.81" width="2.82" height="11.79" fill="#D6AE28"/><rect x="292.97" y="547.81" width="2.82" height="11.79" fill="#D6AE28"/><rect x="299.74" y="547.81" width="2.82" height="11.79" fill="#D6AE28"/></g><g stroke="#262626" stroke-width="1.45" fill="none"><line x1="7.5" y1="7.8" x2="133.6" y2="7.8"/><line x1="7.5" y1="24.2" x2="133.6" y2="24.2"/><line x1="7.5" y1="40.6" x2="133.6" y2="40.6"/><line x1="79.7" y1="53.59" x2="133.6" y2="53.59"/><line x1="79.7" y1="66.58" x2="133.6" y2="66.58"/><line x1="79.7" y1="79.57" x2="133.6" y2="79.57"/><line x1="79.7" y1="92.56" x2="133.6" y2="92.56"/><line x1="79.7" y1="105.55" x2="133.6" y2="105.55"/><line x1="7.5" y1="118.54" x2="133.6" y2="118.54"/><line x1="79.7" y1="131.53" x2="133.6" y2="131.53"/><line x1="79.7" y1="144.52" x2="133.6" y2="144.52"/><line x1="79.7" y1="157.51" x2="133.6" y2="157.51"/><line x1="7.5" y1="170.5" x2="133.6" y2="170.5"/><line x1="79.7" y1="183.49" x2="133.6" y2="183.49"/><line x1="79.7" y1="196.48" x2="133.6" y2="196.48"/><line x1="79.7" y1="209.47" x2="133.6" y2="209.47"/><line x1="7.5" y1="222.46" x2="133.6" y2="222.46"/><line x1="79.7" y1="235.45" x2="133.6" y2="235.45"/><line x1="79.7" y1="248.44" x2="133.6" y2="248.44"/><line x1="79.7" y1="261.43" x2="133.6" y2="261.43"/><line x1="7.5" y1="274.42" x2="133.6" y2="274.42"/><line x1="79.7" y1="287.41" x2="133.6" y2="287.41"/><line x1="79.7" y1="300.4" x2="133.6" y2="300.4"/><line x1="79.7" y1="313.39" x2="133.6" y2="313.39"/><line x1="79.7" y1="326.38" x2="133.6" y2="326.38"/><line x1="79.7" y1="339.37" x2="133.6" y2="339.37"/><line x1="79.7" y1="352.36" x2="133.6" y2="352.36"/><line x1="79.7" y1="365.35" x2="133.6" y2="365.35"/><line x1="7.5" y1="378.34" x2="133.6" y2="378.34"/><line x1="79.7" y1="391.33" x2="133.6" y2="391.33"/><line x1="79.7" y1="404.32" x2="133.6" y2="404.32"/><line x1="79.7" y1="417.31" x2="133.6" y2="417.31"/><line x1="79.7" y1="430.3" x2="133.6" y2="430.3"/><line x1="79.7" y1="443.29" x2="133.6" y2="443.29"/><line x1="79.7" y1="456.28" x2="133.6" y2="456.28"/><line x1="79.7" y1="469.27" x2="133.6" y2="469.27"/><line x1="79.7" y1="482.26" x2="133.6" y2="482.26"/><line x1="79.7" y1="495.25" x2="133.6" y2="495.25"/><line x1="79.7" y1="508.24" x2="133.6" y2="508.24"/><line x1="79.7" y1="521.23" x2="133.6" y2="521.23"/><line x1="79.7" y1="534.22" x2="133.6" y2="534.22"/><line x1="79.7" y1="547.21" x2="133.6" y2="547.21"/><line x1="7.5" y1="560.2" x2="133.6" y2="560.2"/><line x1="7.5" y1="7.8" x2="7.5" y2="560.2"/><line x1="79.7" y1="7.8" x2="79.7" y2="560.2"/><line x1="133.6" y1="7.8" x2="133.6" y2="560.2"/></g><rect x="86.8" y="583.3" width="22.5" height="15.2" fill="#E8B21E"/><rect x="86.8" y="601.75" width="22.5" height="15.2" fill="#7DB43C"/><rect x="86.8" y="620.2" width="22.5" height="15.2" fill="#23A5E6"/><rect x="86.8" y="638.7" width="22.5" height="15.2" fill="#CD3719"/><rect x="86.8" y="657.2" width="22.5" height="15.2" fill="#692D8C"/><rect x="87.4" y="676.3" width="21.3" height="14" fill="#fff" stroke="#111" stroke-width="1.2"/><rect x="224.5" y="583.3" width="22" height="15.2" fill="#D0D0D0"/><rect x="224.5" y="601.75" width="22" height="15.2" fill="#F6E18A"/><rect x="224.5" y="620.2" width="22" height="15.2" fill="#8098B6"/><rect x="224.5" y="638.7" width="22" height="15.2" fill="#3078C4"/><rect x="224.5" y="657.2" width="22" height="15.2" fill="#3050A0"/><rect x="224.5" y="675.7" width="22" height="15.2" fill="#C8940F"/><rect x="224.5" y="694.2" width="22" height="15.2" fill="#62308E"/></svg>
<svg width="520" height="718" viewBox="0 0 520 718" style="position:absolute;left:0;top:0" font-family="Liberation Sans, sans-serif" fill="#111" stroke="#111" stroke-width="0.3"><text x="43.6" y="20.9" font-size="10.3" text-anchor="middle" font-weight="normal">IPSS-R</text><text x="44.4" y="36.9" font-size="10.1" text-anchor="middle" font-weight="normal" textLength="27.6" lengthAdjust="spacingAndGlyphs">WHO</text><text x="43.6" y="53.6" font-size="10.3" text-anchor="middle" font-weight="normal">Samples</text><text x="106.65" y="50.9" font-size="9.9" text-anchor="middle" font-weight="bold">1</text><text x="106.65" y="63.89" font-size="9.9" text-anchor="middle" font-weight="bold">2</text><text x="106.65" y="76.88" font-size="9.9" text-anchor="middle" font-weight="bold">3</text><text x="106.65" y="89.87" font-size="9.9" text-anchor="middle" font-weight="bold">4</text><text x="106.65" y="102.86" font-size="9.9" text-anchor="middle" font-weight="bold">5</text><text x="106.65" y="115.85" font-size="9.9" text-anchor="middle" font-weight="bold">6</text><text x="106.65" y="129.24" font-size="9.6" text-anchor="middle" font-weight="normal">SF3B1</text><text x="106.65" y="142.23" font-size="9.6" text-anchor="middle" font-weight="normal">SRSF2</text><text x="106.65" y="155.22" font-size="9.6" text-anchor="middle" font-weight="normal">U2AF1</text><text x="106.65" y="168.21" font-size="9.6" text-anchor="middle" font-weight="normal">ZRSR2</text><text x="106.65" y="181.2" font-size="9.6" text-anchor="middle" font-weight="normal">TET2</text><text x="106.65" y="194.19" font-size="9.6" text-anchor="middle" font-weight="normal">DNMT3A</text><text x="106.65" y="207.18" font-size="9.6" text-anchor="middle" font-weight="normal">IDH1</text><text x="106.65" y="220.17" font-size="9.6" text-anchor="middle" font-weight="normal">IDH2</text><text x="106.65" y="233.16" font-size="9.6" text-anchor="middle" font-weight="normal">ASXL1</text><text x="106.65" y="246.15" font-size="9.6" text-anchor="middle" font-weight="normal">EZH2</text><text x="106.65" y="259.14" font-size="9.6" text-anchor="middle" font-weight="normal">KDM6A</text><text x="106.65" y="272.13" font-size="9.6" text-anchor="middle" font-weight="normal">ATRX</text><text x="106.65" y="285.12" font-size="9.6" text-anchor="middle" font-weight="normal">RUNX1</text><text x="106.65" y="298.11" font-size="9.6" text-anchor="middle" font-weight="normal">TP53</text><text x="106.65" y="311.1" font-size="9.6" text-anchor="middle" font-weight="normal">ETV6</text><text x="106.65" y="324.09" font-size="9.6" text-anchor="middle" font-weight="normal">BCOR</text><text x="106.65" y="337.08" font-size="9.6" text-anchor="middle" font-weight="normal">BCORL1</text><text x="106.65" y="350.07" font-size="9.6" text-anchor="middle" font-weight="normal">PHF6</text><text x="106.65" y="363.06" font-size="9.6" text-anchor="middle" font-weight="normal">CEBPA</text><text x="106.65" y="376.05" font-size="9.6" text-anchor="middle" font-weight="normal">GATA2</text><text x="106.65" y="389.04" font-size="9.6" text-anchor="middle" font-weight="normal">CBL</text><text x="106.65" y="402.03" font-size="9.6" text-anchor="middle" font-weight="normal">NRAS</text><text x="106.65" y="415.02" font-size="9.6" text-anchor="middle" font-weight="normal">PTPN11</text><text x="106.65" y="428.01" font-size="9.6" text-anchor="middle" font-weight="normal">JAK2</text><text x="106.65" y="441" font-size="9.6" text-anchor="middle" font-weight="normal">CALR</text><text x="106.65" y="453.99" font-size="9.6" text-anchor="middle" font-weight="normal">CDKN2A</text><text x="106.65" y="466.98" font-size="9.6" text-anchor="middle" font-weight="normal">CSF3R</text><text x="106.65" y="479.97" font-size="9.6" text-anchor="middle" font-weight="normal">CUX1</text><text x="106.65" y="492.96" font-size="9.6" text-anchor="middle" font-weight="normal">GNAS</text><text x="106.65" y="505.95" font-size="9.6" text-anchor="middle" font-weight="normal">KIT</text><text x="106.65" y="518.94" font-size="9.6" text-anchor="middle" font-weight="normal">NOTCH1</text><text x="106.65" y="531.93" font-size="9.6" text-anchor="middle" font-weight="normal">RAD21</text><text x="106.65" y="544.92" font-size="9.6" text-anchor="middle" font-weight="normal">SETBP1</text><text x="106.65" y="557.91" font-size="9.6" text-anchor="middle" font-weight="normal">STAG2</text><text x="43.6" y="131.74" font-size="10.3" text-anchor="middle" font-weight="normal">Splicing</text><text x="43.6" y="144.64" font-size="10.3" text-anchor="middle" font-weight="normal">Factor</text><text x="43.6" y="183.7" font-size="10.3" text-anchor="middle" font-weight="normal">DNA</text><text x="43.6" y="196.6" font-size="10.3" text-anchor="middle" font-weight="normal">Methylation</text><text x="43.6" y="235.66" font-size="10.3" text-anchor="middle" font-weight="normal">Chromatin</text><text x="43.6" y="248.56" font-size="10.3" text-anchor="middle" font-weight="normal">Modification</text><text x="43.6" y="287.62" font-size="10.3" text-anchor="middle" font-weight="normal">Transription</text><text x="43.6" y="300.52" font-size="10.3" text-anchor="middle" font-weight="normal">Factors</text><text x="43.6" y="391.54" font-size="10.3" text-anchor="middle" font-weight="normal">Other</text><text x="8.5" y="576.6" font-size="10" text-anchor="start" font-weight="normal" text-decoration="underline" textLength="31.6" lengthAdjust="spacingAndGlyphs">IPSS-R</text><text x="129.3" y="576.7" font-size="10" text-anchor="start" font-weight="normal" text-decoration="underline" textLength="62.5" lengthAdjust="spacingAndGlyphs">WHO Subtype</text><text x="8.5" y="594.2" font-size="10" text-anchor="start" font-weight="normal" textLength="34.3" lengthAdjust="spacingAndGlyphs">Very low</text><text x="8.5" y="612.65" font-size="10" text-anchor="start" font-weight="normal" textLength="17.5" lengthAdjust="spacingAndGlyphs">Low</text><text x="8.5" y="631.1" font-size="10" text-anchor="start" font-weight="normal" textLength="50.5" lengthAdjust="spacingAndGlyphs">Intermediate</text><text x="8.5" y="649.6" font-size="10" text-anchor="start" font-weight="normal" textLength="19.3" lengthAdjust="spacingAndGlyphs">High</text><text x="8.5" y="668.1" font-size="10" text-anchor="start" font-weight="normal" textLength="37.7" lengthAdjust="spacingAndGlyphs">Very high</text><text x="8.5" y="686.6" font-size="10" text-anchor="start" font-weight="normal" textLength="38.6" lengthAdjust="spacingAndGlyphs">Unknown</text><text x="129.5" y="594.2" font-size="10" text-anchor="start" font-weight="normal" textLength="44.2" lengthAdjust="spacingAndGlyphs">RCUD-RN</text><text x="129.5" y="612.65" font-size="10" text-anchor="start" font-weight="normal" textLength="13.1" lengthAdjust="spacingAndGlyphs">RA</text><text x="129.5" y="631.1" font-size="10" text-anchor="start" font-weight="normal" textLength="26.1" lengthAdjust="spacingAndGlyphs">RARS</text><text x="129.5" y="649.6" font-size="10" text-anchor="start" font-weight="normal" textLength="29.2" lengthAdjust="spacingAndGlyphs">RCMD</text><text x="129.5" y="668.1" font-size="10" text-anchor="start" font-weight="normal" textLength="32.7" lengthAdjust="spacingAndGlyphs">RAEB-1</text><text x="129.5" y="686.6" font-size="10" text-anchor="start" font-weight="normal" textLength="33.5" lengthAdjust="spacingAndGlyphs">RAEB-2</text><text x="129.5" y="705.1" font-size="10" text-anchor="start" font-weight="normal" textLength="88.5" lengthAdjust="spacingAndGlyphs">MDS/MPN (RARS-T)</text></svg></div>
</body></html>
